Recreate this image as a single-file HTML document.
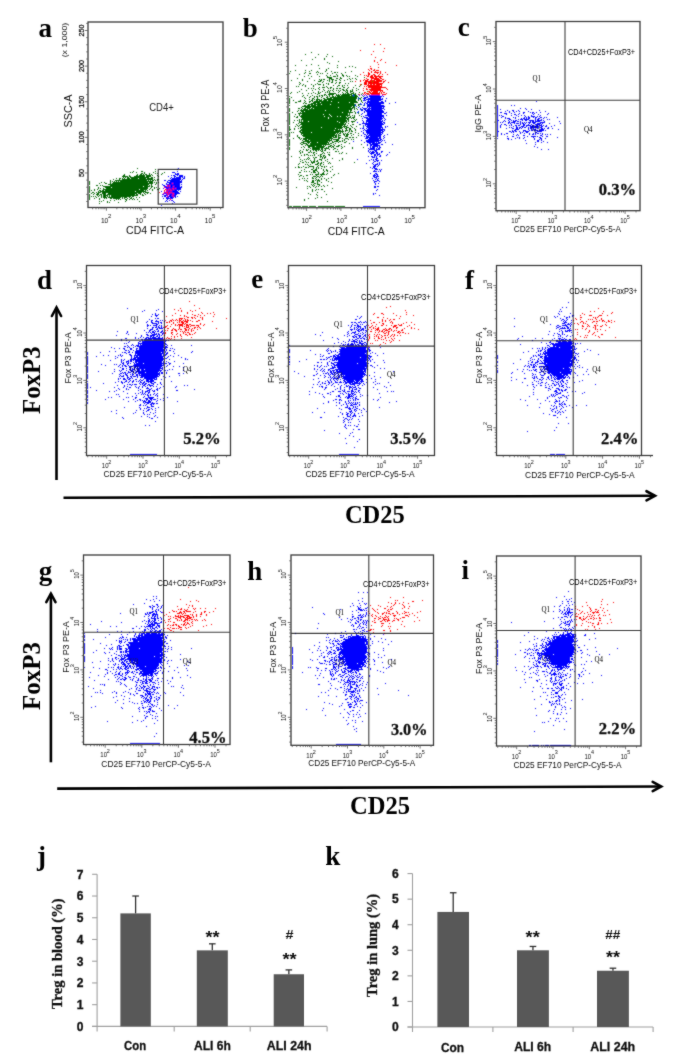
<!DOCTYPE html>
<html><head><meta charset="utf-8"><style>
html,body{margin:0;padding:0;background:#fff;}
svg{display:block;}
.s{font-family:"Liberation Sans",sans-serif;}
.r{font-family:"Liberation Serif",serif;font-weight:bold;}
.q{font-family:"Liberation Serif",serif;}
</style></head><body>
<svg width="685" height="1063" viewBox="0 0 685 1063">
<rect width="685" height="1063" fill="#fff"/>
<defs><filter id="bl" x="0" y="0" width="685" height="1063" filterUnits="userSpaceOnUse"><feConvolveMatrix order="3" kernelMatrix="0.035 0.09 0.035 0.09 0.5 0.09 0.035 0.09 0.035" divisor="1" preserveAlpha="false"/></filter></defs><filter id="sb" x="0" y="0" width="685" height="1063" filterUnits="userSpaceOnUse"><feConvolveMatrix order="3" kernelMatrix="0.02 0.07 0.02 0.07 0.64 0.07 0.02 0.07 0.02" divisor="1" preserveAlpha="false"/></filter>
<g class="dots" filter="url(#bl)"><path transform="translate(0 .5)" stroke="#006400" stroke-width="1" fill="none" d="M137 168h1M155 169h1M133 171h1M141 171h2M155 171h1M130 172h1M132 172h1M136 172h1M144 172h1M153 172h1M164 172h1M141 173h2M144 173h1M149 173h1M155 173h1M157 173h1M162 173h1M124 174h1M137 174h1M140 174h2M143 174h1M145 174h2M149 174h1M151 174h1M161 174h1M123 175h2M129 175h1M136 175h2M139 175h6M146 175h5M152 175h1M157 175h1M122 176h6M129 176h2M134 176h11M146 176h5M158 176h1M123 177h1M125 177h1M127 177h2M130 177h19M151 177h2M154 177h1M116 178h1M119 178h2M122 178h1M124 178h1M127 178h3M131 178h7M139 178h7M147 178h6M113 179h1M119 179h1M122 179h31M154 179h1M157 179h2M110 180h1M115 180h32M148 180h1M150 180h1M152 180h2M155 180h1M157 180h1M89 181h1M110 181h1M112 181h1M114 181h1M116 181h1M118 181h1M120 181h33M89 182h1M101 182h1M104 182h1M110 182h1M113 182h35M149 182h4M154 182h1M156 182h1M158 182h1M89 183h1M99 183h1M105 183h2M110 183h1M112 183h41M156 183h1M89 184h1M108 184h41M151 184h1M155 184h1M96 185h2M100 185h1M102 185h1M110 185h38M149 185h1M151 185h1M175 185h1M89 186h1M103 186h40M144 186h6M151 186h2M164 186h1M89 187h1M98 187h1M105 187h6M112 187h36M151 187h1M154 187h1M156 187h1M89 188h1M98 188h1M100 188h1M103 188h1M106 188h42M150 188h1M154 188h1M159 188h1M89 189h1M94 189h1M97 189h1M103 189h36M140 189h7M149 189h1M152 189h1M157 189h2M89 190h1M91 190h1M94 190h1M99 190h2M102 190h2M105 190h39M145 190h1M147 190h1M152 190h1M89 191h1M98 191h1M100 191h35M136 191h10M89 192h1M92 192h2M96 192h1M98 192h3M102 192h40M143 192h1M145 192h4M91 193h1M94 193h1M97 193h2M102 193h4M108 193h29M138 193h3M144 193h1M147 193h1M150 193h1M89 194h1M93 194h1M96 194h3M100 194h2M103 194h3M107 194h28M136 194h2M140 194h1M142 194h1M145 194h1M89 195h1M97 195h1M99 195h1M101 195h1M103 195h5M109 195h1M111 195h27M142 195h2M89 196h1M91 196h1M93 196h1M95 196h1M98 196h1M101 196h1M103 196h3M107 196h1M109 196h1M111 196h20M132 196h2M89 197h1M96 197h1M101 197h1M103 197h4M108 197h13M122 197h1M124 197h3M129 197h1M131 197h1M136 197h1M139 197h1M89 198h1M94 198h1M99 198h1M104 198h1M106 198h1M110 198h2M113 198h7M122 198h1M124 198h1M127 198h1M130 198h2M133 198h1M89 199h1M99 199h1M116 199h1M118 199h1M120 199h1M125 199h2M129 199h1M132 199h1M134 199h1M137 199h1M103 200h1M110 200h1M114 200h1M126 200h1M99 201h1M101 201h1M107 201h1M125 201h1M139 201h1M107 202h1M109 202h1M118 202h1M99 203h1"/><path transform="translate(0 .5)" stroke="#0000ff" stroke-width="1" fill="none" d="M178 168h1M177 169h1M177 171h1M172 172h3M175 173h1M177 173h2M175 174h4M171 175h1M173 175h2M177 175h1M179 175h4M168 176h1M174 176h2M179 176h4M184 176h1M171 177h1M174 177h1M176 177h5M182 177h1M184 177h1M170 178h1M172 178h9M183 178h2M171 179h10M182 179h1M164 180h2M168 180h12M181 180h1M167 181h1M170 181h12M167 182h15M166 183h1M169 183h11M162 184h1M166 184h14M181 184h1M163 185h2M168 185h12M164 186h3M168 186h12M181 186h1M165 187h17M163 188h1M166 188h15M165 189h16M166 190h11M178 190h1M161 191h1M166 191h12M180 191h1M164 192h2M167 192h12M163 193h17M162 194h2M166 194h11M164 195h4M169 195h7M162 196h1M164 196h2M167 196h9M177 196h1M166 197h3M170 197h4M175 197h1M163 198h1M166 198h7M167 199h1M170 199h1M166 200h1M169 200h1M171 200h2M165 201h1M167 201h1M173 201h1M174 202h1M172 203h1M161 205h1"/><path transform="translate(0 .5)" stroke="#ff0000" stroke-width="1" fill="none" d="M172 183h1M167 185h1M169 185h1M167 186h1M169 186h1M173 186h1M164 187h1M169 188h1M172 188h2M175 188h1M165 189h2M168 189h1M170 189h1M173 189h1M164 190h1M166 190h1M168 190h1M170 190h2M164 191h1M167 191h1M159 192h1M165 192h3M169 192h3M163 193h1M167 193h1M169 193h1M172 193h2M167 194h2M173 194h1M172 195h1M167 196h1M173 196h1M170 199h1"/><path transform="translate(0 .5)" stroke="#006400" stroke-width="1" fill="none" d="M311 52h1M305 54h1M318 54h1M327 54h1M326 56h1M332 56h1M315 57h1M324 58h1M312 59h1M324 59h1M301 60h1M338 61h1M327 62h1M329 63h1M311 64h1M295 65h1M306 65h1M318 65h1M337 65h1M349 66h1M352 66h1M337 67h1M345 67h1M355 67h1M319 68h1M328 68h1M326 69h1M295 70h1M305 70h1M311 70h1M326 70h1M290 71h1M309 71h1M317 71h1M325 71h1M331 71h1M351 71h1M305 72h1M316 72h1M318 72h1M334 72h2M337 72h1M345 72h1M289 73h1M304 73h1M309 73h2M320 73h1M322 73h1M327 73h1M332 73h1M341 73h1M299 74h1M317 74h1M336 74h1M342 74h1M360 74h1M308 75h1M326 75h1M330 75h1M337 75h1M342 75h2M346 75h1M355 75h1M304 76h1M311 76h1M319 76h1M327 76h1M333 76h3M337 76h1M343 76h1M347 76h1M349 76h1M357 76h1M327 77h5M340 77h1M364 77h1M297 78h1M309 78h1M329 78h3M336 78h2M340 78h2M349 78h1M352 78h1M355 78h1M302 79h1M319 79h1M321 79h1M323 79h2M329 79h1M331 79h3M339 79h1M347 79h1M350 79h1M356 79h1M291 80h1M302 80h1M314 80h1M320 80h2M327 80h1M329 80h1M332 80h1M335 80h2M340 80h1M344 80h1M307 81h1M318 81h3M323 81h1M329 81h1M332 81h1M350 81h1M352 81h1M372 81h1M299 82h1M322 82h1M331 82h2M336 82h1M339 82h2M300 83h1M317 83h1M326 83h1M328 83h1M335 83h1M339 83h1M345 83h1M348 83h1M299 84h1M303 84h1M311 84h1M315 84h1M318 84h3M323 84h1M328 84h1M361 84h1M302 85h1M305 85h1M313 85h1M323 85h1M333 85h1M338 85h2M342 85h1M344 85h1M347 85h1M355 85h1M360 85h1M296 86h1M298 86h1M305 86h1M313 86h1M326 86h1M337 86h1M342 86h1M359 86h1M364 86h1M319 87h1M322 87h3M327 87h1M330 87h2M343 87h2M348 87h1M353 87h1M308 88h1M311 88h1M313 88h1M318 88h1M328 88h1M330 88h1M333 88h1M336 88h2M339 88h2M347 88h1M356 88h1M301 89h1M315 89h1M319 89h1M323 89h1M333 89h1M342 89h2M346 89h1M352 89h1M358 89h1M306 90h1M312 90h1M324 90h1M328 90h1M330 90h1M332 90h1M336 90h1M338 90h1M340 90h1M343 90h2M346 90h2M350 90h1M352 90h1M356 90h1M299 91h1M318 91h1M322 91h1M327 91h1M329 91h1M333 91h1M339 91h1M345 91h1M347 91h1M350 91h3M367 91h1M374 91h1M291 92h1M297 92h1M313 92h1M318 92h1M320 92h1M325 92h1M327 92h1M329 92h1M338 92h1M342 92h1M346 92h2M350 92h1M353 92h1M359 92h1M290 93h1M302 93h1M308 93h1M311 93h1M315 93h1M318 93h2M329 93h7M343 93h1M345 93h1M347 93h2M351 93h3M355 93h1M362 93h1M317 94h1M324 94h2M328 94h6M336 94h1M338 94h1M340 94h1M342 94h10M353 94h3M358 94h1M361 94h1M368 94h1M303 95h1M307 95h1M312 95h1M319 95h1M321 95h2M324 95h1M326 95h1M329 95h1M332 95h1M336 95h4M341 95h9M351 95h6M289 96h1M302 96h1M310 96h1M314 96h1M316 96h2M319 96h1M322 96h1M327 96h1M329 96h1M332 96h2M335 96h1M337 96h21M363 96h1M291 97h1M304 97h1M309 97h1M314 97h1M317 97h1M321 97h1M326 97h2M330 97h27M358 97h1M361 97h1M364 97h1M289 98h1M305 98h1M312 98h2M317 98h1M323 98h2M327 98h5M333 98h24M358 98h3M289 99h1M309 99h1M312 99h1M314 99h1M316 99h4M321 99h1M324 99h32M358 99h1M360 99h1M289 100h1M293 100h1M300 100h1M304 100h1M311 100h2M316 100h2M319 100h3M323 100h4M328 100h28M358 100h1M361 100h1M365 100h1M289 101h1M298 101h3M305 101h1M309 101h2M312 101h1M314 101h17M332 101h25M361 101h1M289 102h1M295 102h2M304 102h1M309 102h1M313 102h7M321 102h17M339 102h10M350 102h8M362 102h1M365 102h1M289 103h1M303 103h1M305 103h2M311 103h5M317 103h37M308 104h5M314 104h7M322 104h8M331 104h25M358 104h4M289 105h1M304 105h2M307 105h3M311 105h5M317 105h39M358 105h1M363 105h1M302 106h50M353 106h2M356 106h1M359 106h1M301 107h1M305 107h6M312 107h26M339 107h12M352 107h3M289 108h1M298 108h2M302 108h1M304 108h2M307 108h3M311 108h2M314 108h39M354 108h1M356 108h1M289 109h1M301 109h1M303 109h5M309 109h43M354 109h1M357 109h1M361 109h1M289 110h1M298 110h1M300 110h25M326 110h23M350 110h2M361 110h1M289 111h1M297 111h1M301 111h3M305 111h44M350 111h1M354 111h1M292 112h1M300 112h1M302 112h40M343 112h10M355 112h1M358 112h1M289 113h1M298 113h50M349 113h1M355 113h1M358 113h1M289 114h1M295 114h1M299 114h1M302 114h21M324 114h5M330 114h18M349 114h1M289 115h1M299 115h1M301 115h29M331 115h19M352 115h1M354 115h1M359 115h1M289 116h1M294 116h1M297 116h1M300 116h24M325 116h6M332 116h5M338 116h2M341 116h5M347 116h1M350 116h1M354 116h1M361 116h1M289 117h1M296 117h2M301 117h27M329 117h18M348 117h3M352 117h3M289 118h1M302 118h26M329 118h20M351 118h1M353 118h1M289 119h1M299 119h1M301 119h45M347 119h2M354 119h1M356 119h1M289 120h1M294 120h1M297 120h1M299 120h1M301 120h1M303 120h44M348 120h1M355 120h1M289 121h1M299 121h1M301 121h1M303 121h5M309 121h28M338 121h9M348 121h1M351 121h4M289 122h1M293 122h1M299 122h40M340 122h5M346 122h1M352 122h1M289 123h1M298 123h1M301 123h43M345 123h1M348 123h1M289 124h1M296 124h1M300 124h46M352 124h2M359 124h1M297 125h1M299 125h1M302 125h41M344 125h1M347 125h1M350 125h1M289 126h1M295 126h1M298 126h1M301 126h41M343 126h4M351 126h1M356 126h1M363 126h1M289 127h1M300 127h21M322 127h21M344 127h1M346 127h3M352 127h1M289 128h1M294 128h1M298 128h1M300 128h1M302 128h33M336 128h6M345 128h2M349 128h2M354 128h1M289 129h2M294 129h1M301 129h37M339 129h1M342 129h1M346 129h1M349 129h2M355 129h1M289 130h1M300 130h34M335 130h6M342 130h1M345 130h3M349 130h1M351 130h1M355 130h1M299 131h2M302 131h42M345 131h1M349 131h1M351 131h2M289 132h1M291 132h1M293 132h1M300 132h11M312 132h27M340 132h1M342 132h1M348 132h1M355 132h1M289 133h1M301 133h35M337 133h1M339 133h2M343 133h1M345 133h1M347 133h1M350 133h2M358 133h1M289 134h1M301 134h1M303 134h32M336 134h1M338 134h1M343 134h2M346 134h3M353 134h1M289 135h1M297 135h1M302 135h35M338 135h3M344 135h1M346 135h2M351 135h1M358 135h1M289 136h1M297 136h1M303 136h31M335 136h2M338 136h1M345 136h3M298 137h2M305 137h27M333 137h4M338 137h3M349 137h2M352 137h2M356 137h1M293 138h1M299 138h1M301 138h1M303 138h30M338 138h2M342 138h1M345 138h3M289 139h1M300 139h1M303 139h4M308 139h22M331 139h1M333 139h6M344 139h1M348 139h1M351 139h1M353 139h1M289 140h1M302 140h1M305 140h4M310 140h22M336 140h3M342 140h1M344 140h1M289 141h1M303 141h25M329 141h1M332 141h1M334 141h4M339 141h2M342 141h1M346 141h1M289 142h1M301 142h3M307 142h3M311 142h6M318 142h11M332 142h2M338 142h1M344 142h2M289 143h1M300 143h1M303 143h4M308 143h1M310 143h17M328 143h1M330 143h2M335 143h1M349 143h1M289 144h1M301 144h2M306 144h2M310 144h20M333 144h1M341 144h1M361 144h1M289 145h1M305 145h1M307 145h15M323 145h1M325 145h1M330 145h2M334 145h1M338 145h2M303 146h1M308 146h7M316 146h9M328 146h3M332 146h2M336 146h3M341 146h1M344 146h1M289 147h1M301 147h1M304 147h1M308 147h2M312 147h12M326 147h1M328 147h1M331 147h1M333 147h1M342 147h1M352 147h1M363 147h1M289 148h1M310 148h1M312 148h8M321 148h2M324 148h5M334 148h2M341 148h1M352 148h1M289 149h1M303 149h1M306 149h1M308 149h1M312 149h8M321 149h2M325 149h1M329 149h1M333 149h1M337 149h1M300 150h1M306 150h2M310 150h1M313 150h1M315 150h2M318 150h1M320 150h1M322 150h1M324 150h2M299 151h1M302 151h1M310 151h1M316 151h1M321 151h2M335 151h2M338 151h1M300 152h1M302 152h1M308 152h2M311 152h1M313 152h2M323 152h1M327 152h1M329 152h1M342 152h1M300 153h1M313 153h1M316 153h1M322 153h1M324 153h1M339 153h1M341 153h1M346 153h1M304 154h1M306 154h2M314 154h1M320 154h2M328 154h2M301 155h1M304 155h1M308 155h1M310 155h1M312 155h1M314 155h1M318 155h1M320 155h1M323 155h2M329 155h1M291 156h1M320 156h2M323 156h1M325 156h1M299 157h1M308 157h1M313 157h1M315 157h2M320 157h1M322 157h1M324 157h2M307 158h1M309 158h1M314 158h1M322 158h1M324 158h1M332 158h1M342 158h1M300 159h1M304 159h1M306 159h1M308 159h1M314 159h1M319 159h3M327 159h1M342 159h1M302 160h1M310 160h1M314 160h1M317 160h1M321 160h1M325 160h1M339 160h1M300 161h1M305 161h1M311 161h1M313 161h2M316 161h2M327 161h1M302 162h2M306 162h1M308 162h1M311 162h4M318 162h1M321 162h1M323 162h1M329 162h1M354 162h1M299 163h1M312 163h1M317 163h2M320 163h2M328 163h1M330 163h1M298 164h1M305 164h1M307 164h1M310 164h1M315 164h3M320 164h1M323 164h1M308 165h1M318 165h1M320 165h1M298 166h1M303 166h1M309 166h5M317 166h1M321 166h2M324 166h1M326 166h1M332 166h1M295 167h1M298 167h2M301 167h1M305 167h2M308 167h1M313 167h1M316 167h1M318 167h1M324 167h1M330 167h1M313 168h1M316 168h1M318 168h1M321 168h1M304 169h1M311 169h2M315 169h2M323 169h1M326 169h1M332 169h1M301 170h1M313 170h4M323 170h1M326 170h2M304 171h1M306 171h1M309 171h1M313 171h2M317 171h1M324 171h1M327 171h1M330 171h1M299 172h2M311 172h1M313 172h3M318 172h1M323 172h1M318 173h1M322 173h2M327 173h1M338 173h1M298 174h1M310 174h1M312 174h1M315 174h4M320 174h5M326 174h1M334 174h1M300 175h2M306 175h2M316 175h1M321 175h1M333 175h1M299 176h1M303 176h1M313 176h3M317 176h2M320 176h1M322 176h1M312 177h1M316 177h1M319 177h1M331 177h1M302 178h1M304 178h1M307 178h1M312 178h2M315 178h1M321 178h1M324 178h1M328 178h1M299 179h1M316 179h1M318 179h1M321 179h1M326 179h1M304 180h1M306 180h1M312 180h2M315 180h1M317 180h3M326 180h1M307 181h1M312 181h2M317 181h1M319 181h1M328 181h1M311 182h3M317 182h1M321 182h1M331 182h1M314 183h2M317 183h1M311 184h1M313 184h1M317 184h3M312 185h1M314 185h1M319 185h1M323 185h1M327 185h1M307 186h1M309 186h1M313 186h1M316 186h1M318 186h1M321 186h1M324 186h1M296 187h1M310 187h1M315 187h1M307 188h1M332 188h1M312 189h1M316 189h1M318 189h1M321 189h2M312 190h1M315 190h1M312 191h1M324 191h1M317 192h1M308 193h1M310 194h1M316 194h1M326 194h1M317 195h1M317 197h1M321 197h1M308 198h1M315 198h1M304 199h1M304 200h1M327 201h1M289 206h3M293 206h8M302 206h6M309 206h7M318 206h16M335 206h10"/><path transform="translate(0 .5)" stroke="#0000ff" stroke-width="1" fill="none" d="M353 95h1M359 95h1M362 95h1M364 95h1M366 95h1M369 95h11M382 95h1M367 96h1M369 96h13M383 96h1M364 97h4M370 97h11M358 98h1M363 98h3M368 98h13M382 98h1M386 98h1M364 99h1M366 99h17M363 100h3M368 100h1M370 100h11M385 100h1M367 101h12M381 101h2M385 101h1M365 102h1M367 102h17M395 102h1M360 103h1M364 103h1M366 103h2M369 103h15M389 103h1M361 104h1M364 104h1M367 104h14M355 105h1M364 105h1M367 105h17M367 106h18M358 107h1M362 107h1M367 107h1M369 107h1M371 107h11M383 107h1M360 108h1M363 108h4M368 108h16M360 109h1M362 109h1M364 109h2M367 109h3M371 109h11M384 109h1M361 110h2M365 110h18M358 111h1M364 111h1M366 111h18M357 112h1M364 112h1M367 112h17M386 112h1M362 113h1M367 113h15M384 113h2M361 114h1M367 114h15M365 115h19M386 115h1M363 116h1M368 116h16M364 117h4M369 117h13M383 117h1M362 118h1M366 118h17M384 118h1M367 119h15M385 119h1M362 120h1M366 120h15M382 120h1M384 120h1M363 121h1M366 121h17M357 122h1M363 122h1M366 122h1M368 122h14M383 122h2M362 123h21M384 123h1M360 124h1M365 124h19M395 124h1M363 125h1M365 125h1M367 125h15M366 126h16M385 126h1M387 126h1M363 127h1M367 127h16M385 127h1M360 128h1M362 128h2M366 128h1M368 128h13M382 128h1M364 129h1M367 129h18M363 130h1M365 130h18M384 130h1M361 131h1M366 131h15M382 131h2M363 132h1M366 132h17M363 133h1M367 133h14M382 133h1M364 134h2M367 134h1M369 134h13M387 134h1M361 135h1M366 135h1M368 135h13M384 135h1M364 136h1M366 136h3M370 136h11M383 136h1M366 137h12M379 137h2M384 137h1M365 138h3M369 138h12M383 138h1M368 139h11M380 139h2M361 140h1M366 140h15M382 140h1M384 140h1M353 141h1M366 141h13M381 141h1M364 142h1M367 142h8M376 142h1M378 142h3M385 142h1M369 143h2M372 143h8M367 144h1M370 144h8M381 144h2M392 144h1M367 145h1M370 145h2M373 145h7M370 146h1M372 146h6M379 146h1M370 147h1M372 147h3M377 147h1M379 147h2M368 148h1M370 148h5M376 148h1M378 148h2M369 149h6M376 149h4M368 150h1M374 150h3M368 151h1M370 151h1M372 151h2M375 151h2M381 151h2M369 152h1M371 152h4M376 152h2M381 152h1M389 152h1M370 153h4M376 153h2M379 153h1M371 154h1M374 154h2M377 154h3M387 154h1M374 155h2M377 155h1M380 155h1M386 155h1M368 156h1M371 156h2M374 156h1M376 156h1M379 156h2M372 157h3M376 157h1M376 158h2M357 159h1M371 159h1M373 159h1M375 159h2M369 160h1M373 160h1M376 160h3M381 160h1M374 161h2M377 161h1M373 162h1M379 162h1M366 163h1M372 163h1M377 163h1M379 163h1M373 164h1M375 164h3M379 164h1M374 165h2M378 165h1M373 166h3M377 166h1M370 167h1M373 167h2M372 168h1M374 168h3M375 169h3M379 169h1M381 169h1M374 170h1M380 170h1M373 171h4M378 171h1M380 171h1M370 173h1M375 173h2M374 174h1M376 174h2M373 175h3M377 175h1M373 176h2M376 176h3M374 177h3M372 178h1M376 178h1M378 178h1M375 179h1M377 179h1M373 180h1M377 180h2M374 181h3M379 181h1M374 182h1M375 183h1M378 183h1M375 184h1M374 186h2M377 186h2M374 187h2M377 189h1M376 190h1M373 193h1M375 193h1M373 194h1M379 195h1M363 206h17"/><path transform="translate(0 .5)" stroke="#ff0000" stroke-width="1" fill="none" d="M365 28h1M374 44h1M380 44h1M384 48h1M360 50h1M373 51h1M383 51h1M371 54h1M375 57h1M381 59h1M374 60h1M380 60h1M374 61h1M377 62h1M385 62h1M378 64h1M396 65h1M370 66h1M378 67h1M370 68h2M368 69h1M371 69h1M374 69h1M369 70h1M373 70h2M376 70h3M371 71h1M375 71h1M380 71h1M363 72h1M368 72h1M371 72h1M374 72h5M380 72h1M385 72h1M368 73h2M377 73h1M380 73h1M360 74h1M368 74h2M373 74h2M379 74h1M382 74h1M387 74h1M364 75h1M366 75h1M368 75h1M371 75h2M374 75h2M378 75h1M367 76h2M370 76h3M374 76h9M370 77h4M375 77h2M379 77h2M366 78h1M371 78h8M380 78h2M364 79h1M367 79h2M371 79h1M374 79h6M382 79h2M360 80h1M363 80h1M365 80h3M370 80h5M376 80h6M385 80h1M355 81h1M360 81h1M365 81h7M373 81h9M383 81h2M364 82h3M368 82h11M383 82h1M388 82h1M364 83h3M368 83h15M360 84h1M364 84h3M368 84h1M370 84h2M373 84h2M376 84h6M367 85h13M381 85h1M364 86h1M366 86h1M368 86h14M368 87h18M363 88h1M366 88h1M371 88h10M386 88h1M366 89h2M369 89h12M387 89h1M363 90h1M370 90h13M368 91h2M371 91h1M373 91h5M380 91h1M382 91h1M364 92h2M369 92h2M372 92h6M379 92h1M381 92h1M383 92h2M364 93h1M366 93h3M370 93h10M381 93h1M386 93h1M359 94h1M363 94h1M365 94h1M367 94h1M369 94h1M371 94h9M382 94h4"/><path transform="translate(0 .5)" stroke="#0000ff" stroke-width="1" fill="none" d="M536 101h1M497 105h1M511 105h1M514 105h1M497 106h1M497 107h1M497 108h1M520 108h1M525 108h1M497 109h1M500 109h1M526 109h1M531 109h1M497 110h1M507 110h1M512 110h2M518 110h1M539 110h1M497 111h1M505 111h1M509 111h1M513 111h1M516 111h1M519 111h1M528 111h1M545 111h1M497 112h1M500 112h2M509 112h1M514 112h1M523 112h2M530 112h1M532 112h2M536 112h1M540 112h1M497 113h1M504 113h3M511 113h1M519 113h1M523 113h1M532 113h1M534 113h1M548 113h1M497 114h1M506 114h1M514 114h2M518 114h1M533 114h1M538 114h1M547 114h1M497 115h1M499 115h1M501 115h1M511 115h1M516 115h1M521 115h1M524 115h1M531 115h1M540 115h1M497 116h1M502 116h2M518 116h1M525 116h1M528 116h1M531 116h4M537 116h1M539 116h1M497 117h1M501 117h1M505 117h1M513 117h1M515 117h1M524 117h1M526 117h1M528 117h2M533 117h1M535 117h2M540 117h2M544 117h1M546 117h1M557 117h1M497 118h1M505 118h1M507 118h3M515 118h1M521 118h1M523 118h2M526 118h1M528 118h2M535 118h1M538 118h2M543 118h1M497 119h1M509 119h2M518 119h1M520 119h3M524 119h5M535 119h1M537 119h2M541 119h1M547 119h1M549 119h1M497 120h2M504 120h1M508 120h1M511 120h1M513 120h1M515 120h2M522 120h1M525 120h2M529 120h5M535 120h1M537 120h5M543 120h1M497 121h1M503 121h1M505 121h1M509 121h1M513 121h3M517 121h2M520 121h1M530 121h1M532 121h2M535 121h5M544 121h1M559 121h1M497 122h1M500 122h1M502 122h1M508 122h2M511 122h4M520 122h1M522 122h1M524 122h1M526 122h1M528 122h3M532 122h4M540 122h5M497 123h1M508 123h1M510 123h1M514 123h1M516 123h3M520 123h1M522 123h2M525 123h1M529 123h1M533 123h2M537 123h4M542 123h1M549 123h1M560 123h1M497 124h1M501 124h1M504 124h2M511 124h1M520 124h1M523 124h2M528 124h1M531 124h1M535 124h5M541 124h1M497 125h1M500 125h1M506 125h1M509 125h1M511 125h1M515 125h2M518 125h2M523 125h2M526 125h5M532 125h2M536 125h2M539 125h3M543 125h1M546 125h1M554 125h1M497 126h1M500 126h1M513 126h1M516 126h1M521 126h3M526 126h1M530 126h9M541 126h2M545 126h2M551 126h1M497 127h1M500 127h1M509 127h1M511 127h1M516 127h2M519 127h2M522 127h1M524 127h2M528 127h1M530 127h9M540 127h2M548 127h1M497 128h1M506 128h1M512 128h2M516 128h2M519 128h1M521 128h1M528 128h1M530 128h2M533 128h1M537 128h1M541 128h2M544 128h1M547 128h2M552 128h1M497 129h1M515 129h4M528 129h1M531 129h1M533 129h3M540 129h4M558 129h1M497 130h1M512 130h1M514 130h2M523 130h3M529 130h1M531 130h2M534 130h4M539 130h5M545 130h1M497 131h2M509 131h2M512 131h2M515 131h2M519 131h1M523 131h1M525 131h4M537 131h5M497 132h1M511 132h1M513 132h1M520 132h1M522 132h1M526 132h2M535 132h2M497 133h1M501 133h1M506 133h2M520 133h1M524 133h1M529 133h1M533 133h1M535 133h1M537 133h2M540 133h1M542 133h1M497 134h1M501 134h1M504 134h1M513 134h1M517 134h1M529 134h1M532 134h2M535 134h1M542 134h1M545 134h1M547 134h1M550 134h1M497 135h1M516 135h1M518 135h1M523 135h2M540 135h2M497 136h1M507 136h1M512 136h2M527 136h1M531 136h5M537 136h1M542 136h1M546 136h2M517 137h1M519 137h1M524 137h1M533 137h1M539 137h2M557 137h1M497 138h1M507 138h2M515 138h1M519 138h1M523 138h1M534 138h1M540 138h2M545 138h1M508 139h1M511 139h1M534 139h1M539 139h1M541 139h1M525 140h1M537 140h2M541 140h1M537 141h2M543 141h1M535 142h1M541 142h1M547 142h1M526 143h1M535 144h1M534 146h1M537 147h1M541 149h1M548 149h1"/><path transform="translate(0 .5)" stroke="#0000ff" stroke-width="1" fill="none" d="M127 308h1M158 309h1M144 310h1M156 310h1M142 311h1M162 311h1M155 313h1M152 314h1M155 314h1M158 314h1M155 315h3M151 316h1M156 316h1M155 318h1M157 318h2M149 319h1M151 320h2M156 320h1M160 320h1M162 320h1M147 321h1M151 321h1M155 321h4M164 321h1M146 322h1M151 322h2M158 322h1M160 322h2M152 323h5M158 323h1M161 323h1M147 324h1M156 324h2M147 325h2M150 325h1M153 325h4M159 325h1M161 325h1M147 326h1M156 326h1M158 326h1M161 326h1M152 327h2M155 327h2M158 327h2M161 327h1M163 327h2M147 328h1M152 328h1M157 328h1M159 328h4M150 329h3M156 329h2M144 330h1M149 330h2M154 330h1M158 330h1M162 330h1M117 331h1M127 331h1M149 331h1M152 331h2M155 331h1M157 331h2M161 331h2M127 332h1M146 332h1M148 332h1M150 332h1M152 332h3M160 332h2M163 332h1M126 333h1M136 333h1M151 333h1M154 333h1M156 333h1M158 333h1M162 333h3M128 334h1M146 334h2M152 334h5M158 334h2M162 334h1M116 335h1M141 335h1M147 335h2M150 335h5M157 335h1M159 335h1M161 335h1M141 336h1M150 336h2M153 336h1M156 336h2M159 336h1M135 337h1M140 337h1M143 337h1M146 337h3M150 337h1M152 337h4M158 337h2M162 337h1M125 338h2M135 338h1M138 338h1M145 338h2M148 338h15M121 339h1M141 339h2M144 339h8M153 339h11M121 340h1M126 340h1M142 340h1M144 340h23M168 340h1M129 341h1M139 341h2M142 341h22M165 341h1M128 342h1M138 342h1M142 342h23M124 343h1M126 343h1M138 343h28M132 344h1M138 344h1M140 344h1M142 344h22M165 344h2M127 345h1M131 345h1M133 345h1M136 345h3M140 345h25M167 345h1M171 345h1M191 345h1M124 346h2M128 346h1M135 346h1M137 346h27M165 346h2M111 347h1M127 347h1M129 347h1M133 347h1M139 347h29M114 348h1M119 348h1M123 348h2M130 348h2M136 348h2M139 348h24M164 348h2M170 348h1M172 348h1M124 349h1M130 349h2M136 349h1M139 349h26M166 349h1M174 349h1M125 350h2M128 350h1M133 350h1M136 350h29M166 350h1M169 350h2M109 351h1M115 351h1M129 351h1M135 351h29M165 351h1M173 351h1M192 351h1M87 352h1M100 352h1M122 352h1M124 352h2M128 352h2M132 352h1M135 352h26M162 352h2M165 352h1M167 352h1M191 352h1M87 353h1M126 353h1M135 353h29M166 353h2M174 353h1M87 354h1M120 354h1M129 354h2M135 354h1M137 354h25M163 354h1M165 354h2M103 355h1M108 355h1M118 355h1M120 355h1M122 355h1M130 355h2M134 355h28M163 355h3M170 355h1M178 355h1M87 356h1M96 356h1M115 356h1M121 356h1M131 356h1M134 356h1M136 356h2M139 356h25M168 356h1M173 356h1M87 357h1M117 357h1M131 357h1M134 357h29M167 357h1M181 357h1M87 358h1M115 358h1M131 358h1M133 358h3M137 358h27M165 358h2M185 358h1M87 359h1M121 359h1M124 359h1M130 359h34M169 359h1M185 359h1M187 359h1M87 360h1M110 360h1M121 360h1M123 360h1M128 360h1M130 360h2M133 360h1M135 360h28M87 361h1M121 361h1M126 361h3M130 361h2M135 361h27M163 361h1M166 361h1M174 361h1M87 362h1M121 362h1M123 362h1M126 362h1M128 362h1M133 362h1M135 362h2M138 362h24M163 362h1M168 362h1M87 363h1M122 363h2M127 363h2M130 363h1M134 363h1M136 363h7M144 363h23M169 363h2M183 363h1M87 364h1M101 364h1M114 364h1M116 364h1M120 364h1M123 364h1M127 364h1M134 364h28M163 364h1M169 364h1M105 365h1M119 365h1M122 365h1M124 365h2M128 365h1M133 365h31M167 365h1M87 366h1M118 366h1M122 366h1M125 366h2M129 366h4M134 366h28M166 366h1M173 366h1M179 366h1M87 367h1M120 367h1M129 367h2M134 367h2M137 367h1M139 367h22M162 367h1M164 367h1M183 367h1M87 368h1M122 368h2M126 368h1M130 368h1M132 368h1M134 368h1M136 368h27M87 369h1M114 369h1M122 369h2M129 369h2M132 369h3M137 369h3M141 369h3M145 369h15M162 369h1M169 369h1M172 369h1M87 370h1M119 370h1M121 370h1M126 370h1M130 370h3M135 370h1M137 370h3M141 370h21M164 370h2M167 370h1M183 370h1M87 371h1M98 371h1M114 371h1M120 371h1M128 371h1M131 371h3M136 371h23M160 371h1M87 372h1M122 372h1M124 372h2M128 372h3M133 372h1M135 372h2M138 372h7M146 372h12M159 372h1M161 372h2M166 372h1M112 373h1M120 373h2M123 373h1M125 373h1M127 373h1M132 373h1M135 373h1M138 373h22M161 373h2M166 373h1M178 373h2M183 373h1M87 374h1M119 374h1M125 374h2M130 374h1M132 374h2M136 374h2M139 374h1M141 374h19M87 375h1M120 375h1M123 375h1M126 375h2M132 375h1M136 375h2M139 375h19M159 375h1M179 375h1M87 376h1M119 376h1M121 376h3M127 376h1M130 376h2M133 376h3M137 376h1M141 376h18M163 376h1M169 376h1M87 377h1M127 377h2M131 377h1M137 377h1M140 377h3M144 377h13M165 377h1M87 378h1M118 378h1M120 378h1M123 378h2M127 378h1M129 378h2M132 378h1M144 378h11M156 378h1M118 379h1M123 379h3M128 379h2M135 379h2M140 379h1M143 379h1M146 379h7M154 379h3M161 379h1M126 380h1M130 380h1M133 380h1M139 380h1M141 380h2M146 380h3M150 380h4M87 381h1M118 381h1M121 381h1M125 381h2M129 381h1M132 381h2M136 381h1M138 381h1M140 381h1M144 381h1M146 381h8M171 381h1M115 382h1M121 382h2M124 382h1M128 382h1M132 382h1M140 382h2M143 382h2M148 382h1M150 382h2M154 382h2M160 382h1M87 383h1M103 383h1M122 383h1M139 383h1M142 383h2M145 383h2M151 383h3M160 383h1M87 384h1M127 384h1M129 384h2M132 384h1M134 384h3M140 384h1M142 384h1M144 384h2M148 384h2M153 384h1M157 384h1M161 384h1M87 385h1M117 385h1M124 385h1M131 385h1M143 385h2M147 385h1M149 385h4M184 385h1M187 385h1M87 386h1M124 386h1M127 386h1M135 386h1M139 386h1M142 386h1M145 386h1M150 386h1M153 386h1M156 386h1M163 386h1M176 386h1M87 387h1M90 387h1M114 387h1M123 387h1M129 387h2M136 387h1M138 387h1M142 387h1M147 387h1M160 387h1M175 387h1M87 388h1M118 388h1M126 388h1M138 388h1M146 388h3M151 388h1M157 388h1M159 388h1M119 389h1M126 389h1M128 389h1M140 389h1M149 389h2M156 389h2M194 389h1M87 390h1M96 390h1M116 390h1M138 390h1M142 390h1M147 390h3M152 390h1M154 390h1M157 390h1M176 390h2M87 391h1M109 391h1M114 391h1M123 391h1M142 391h1M145 391h3M149 391h1M153 391h2M87 392h1M140 392h1M142 392h1M145 392h1M148 392h2M87 393h1M127 393h1M135 393h1M138 393h1M142 393h1M144 393h1M148 393h1M154 393h1M157 393h1M116 394h1M118 394h1M141 394h1M143 394h1M145 394h1M147 394h1M150 394h1M153 394h1M156 394h1M163 394h1M87 395h1M136 395h1M147 395h2M150 395h1M155 395h1M157 395h1M87 396h1M119 396h1M132 396h1M144 396h1M148 396h1M157 396h1M87 397h1M108 397h1M111 397h1M126 397h1M128 397h1M135 397h2M143 397h1M148 397h6M167 397h1M135 398h1M145 398h3M149 398h4M157 398h1M163 398h1M87 399h1M105 399h1M123 399h1M133 399h1M139 399h2M146 399h2M150 399h2M153 399h3M160 399h1M87 400h1M137 400h1M140 400h1M142 400h1M144 400h1M146 400h1M148 400h2M151 400h1M157 400h1M163 400h1M128 401h1M135 401h1M143 401h3M148 401h3M156 401h1M177 401h1M87 402h1M143 402h1M145 402h6M152 402h1M87 403h1M144 403h1M147 403h2M151 403h4M156 403h2M140 404h1M146 404h1M150 404h2M153 404h1M139 405h2M143 405h1M145 405h1M151 405h1M147 406h1M151 406h3M124 407h1M139 407h1M147 407h3M158 407h1M140 408h1M144 408h1M146 408h1M151 408h1M155 408h1M140 409h1M148 409h2M152 409h1M116 410h1M136 410h1M143 410h1M147 410h2M155 410h1M111 411h1M146 411h1M135 412h1M143 412h1M150 412h1M155 412h1M116 413h1M133 413h1M143 413h1M153 413h1M173 413h1M144 414h1M147 414h1M149 414h1M155 415h1M141 416h1M147 416h1M154 416h1M122 417h1M149 417h1M157 417h1M123 418h1M151 418h2M155 421h1M145 425h1M149 425h1M130 454h27"/><path transform="translate(0 .5)" stroke="#ff0000" stroke-width="1" fill="none" d="M189 301h1M194 305h1M180 308h1M199 308h1M174 309h1M178 310h1M181 310h1M190 310h1M195 310h1M181 311h1M192 311h1M187 312h1M201 312h1M213 312h1M175 313h1M187 313h1M202 313h1M207 313h1M210 313h1M192 314h1M198 314h1M214 314h1M172 315h1M180 315h1M184 315h1M194 315h2M200 315h1M204 315h1M166 316h1M184 316h1M186 316h1M197 316h1M213 316h1M187 317h2M191 317h2M194 317h1M200 317h1M202 317h1M179 318h4M184 318h1M192 318h1M195 318h1M202 318h1M226 318h1M172 319h1M176 319h1M179 319h1M181 319h1M185 319h1M187 319h1M202 319h1M165 320h1M170 320h2M173 320h1M175 320h1M177 320h1M179 320h2M183 320h1M185 320h1M187 320h2M190 320h1M198 320h2M169 321h1M171 321h1M179 321h1M181 321h2M184 321h4M192 321h1M196 321h2M212 321h1M166 322h2M169 322h1M173 322h1M177 322h1M179 322h1M181 322h3M186 322h2M173 323h1M182 323h2M185 323h1M200 323h1M171 324h1M175 324h1M178 324h5M184 324h1M186 324h2M189 324h2M200 324h1M204 324h1M167 325h1M175 325h1M177 325h1M179 325h4M186 325h3M191 325h4M196 325h3M203 325h1M165 326h2M170 326h1M179 326h1M182 326h1M184 326h1M186 326h1M188 326h1M190 326h1M198 326h1M164 327h2M179 327h1M186 327h3M194 327h2M197 327h1M199 327h1M167 328h2M173 328h1M179 328h1M184 328h2M189 328h1M192 328h1M194 328h1M200 328h1M216 328h1M172 329h1M174 329h2M178 329h1M180 329h2M185 329h2M188 329h1M191 329h1M197 329h1M165 330h1M167 330h1M171 330h2M175 330h2M185 330h2M188 330h1M191 330h1M193 330h1M176 331h1M180 331h1M182 331h1M184 331h1M191 331h1M165 332h1M171 332h2M183 332h1M185 332h1M187 332h2M195 332h1M164 333h2M171 333h1M177 333h1M183 333h1M189 333h1M194 333h1M172 334h1M176 334h1M180 334h1M185 334h2M189 334h2M192 334h1M164 335h1M180 335h1M187 335h1M171 336h1M174 336h1M177 336h1M181 336h1M167 337h1M174 337h1M191 337h1M164 338h1M166 338h1M168 338h2M171 338h1M181 338h1M164 339h1M170 339h1M174 339h1"/><path transform="translate(0 .5)" stroke="#0000ff" stroke-width="1" fill="none" d="M357 316h1M361 316h1M360 317h1M359 318h1M355 319h2M360 321h1M365 321h1M351 322h2M354 322h2M358 322h2M361 322h1M363 322h2M366 322h1M356 323h1M352 324h1M357 324h1M360 324h1M362 324h1M367 324h1M348 325h1M351 325h1M354 325h2M357 325h2M366 325h1M351 326h1M357 326h4M364 326h2M350 327h1M354 327h1M356 327h1M358 327h1M360 327h1M365 327h1M354 328h1M357 328h1M360 328h1M362 328h2M365 328h1M350 329h3M354 329h1M356 329h1M358 329h2M361 329h3M351 330h1M357 330h2M360 330h2M363 330h1M365 330h2M348 331h1M355 331h1M358 331h2M366 331h1M322 332h1M347 332h1M352 332h4M362 332h1M365 332h1M348 333h1M351 333h1M354 333h1M358 333h1M360 333h1M363 333h1M315 334h1M347 334h1M355 334h3M362 334h1M365 334h1M367 334h1M320 335h1M344 335h1M349 335h1M354 335h1M358 335h3M364 335h2M347 336h1M352 336h2M355 336h2M359 336h2M363 336h1M365 336h1M332 337h1M353 337h2M356 337h1M359 337h1M362 337h1M366 337h1M337 338h1M357 338h2M360 338h2M363 338h2M338 339h1M349 339h1M352 339h1M355 339h2M364 339h1M366 339h1M323 340h1M349 340h1M353 340h2M357 340h1M359 340h1M361 340h1M343 341h1M348 341h1M351 341h6M359 341h1M361 341h2M367 341h1M338 342h1M345 342h1M354 342h1M356 342h2M359 342h2M364 342h2M334 343h1M341 343h1M348 343h1M351 343h2M354 343h1M359 343h5M366 343h1M343 344h1M345 344h1M347 344h2M350 344h4M355 344h1M357 344h2M361 344h2M364 344h1M366 344h1M289 345h1M340 345h1M342 345h3M347 345h7M355 345h2M358 345h2M361 345h3M365 345h2M333 346h1M339 346h1M345 346h22M340 347h5M346 347h21M368 347h2M380 347h1M328 348h1M341 348h25M368 348h1M289 349h1M327 349h1M339 349h27M368 349h2M289 350h1M310 350h1M326 350h1M328 350h1M330 350h1M335 350h1M340 350h28M369 350h2M289 351h1M327 351h1M331 351h1M333 351h1M335 351h1M339 351h29M369 351h1M289 352h1M331 352h1M337 352h1M340 352h27M372 352h1M328 353h2M339 353h26M366 353h1M370 353h1M375 353h1M383 353h1M315 354h1M320 354h1M335 354h1M338 354h29M323 355h1M333 355h2M336 355h3M340 355h30M377 355h1M289 356h1M320 356h1M322 356h1M330 356h2M333 356h3M337 356h31M369 356h3M289 357h1M326 357h1M328 357h2M333 357h1M335 357h25M361 357h8M370 357h1M327 358h1M332 358h1M334 358h33M368 358h2M289 359h1M306 359h1M320 359h2M323 359h2M326 359h1M330 359h1M332 359h1M334 359h34M369 359h1M372 359h1M332 360h3M336 360h1M338 360h29M368 360h1M370 360h1M383 360h1M289 361h1M299 361h1M329 361h1M338 361h28M367 361h1M370 361h1M289 362h1M317 362h2M321 362h1M327 362h1M331 362h1M334 362h33M374 362h1M384 362h1M327 363h1M331 363h3M337 363h20M358 363h11M289 364h1M327 364h1M333 364h2M336 364h31M314 365h1M317 365h1M321 365h1M328 365h1M331 365h1M334 365h34M370 365h2M377 365h1M317 366h1M320 366h1M324 366h1M326 366h1M332 366h1M334 366h1M337 366h31M372 366h1M319 367h1M332 367h4M337 367h28M366 367h1M374 367h1M314 368h1M322 368h1M330 368h4M338 368h29M380 368h1M384 368h1M314 369h1M317 369h1M321 369h1M324 369h1M328 369h2M335 369h31M367 369h1M320 370h1M323 370h1M328 370h1M330 370h1M332 370h3M336 370h2M339 370h24M364 370h2M294 371h1M316 371h1M322 371h1M324 371h1M330 371h2M333 371h1M336 371h30M393 371h1M327 372h1M330 372h2M333 372h3M337 372h27M365 372h1M374 372h1M298 373h1M317 373h1M323 373h1M325 373h2M328 373h1M331 373h2M334 373h1M336 373h2M341 373h24M316 374h1M328 374h1M330 374h1M332 374h2M335 374h1M338 374h1M340 374h26M313 375h2M320 375h1M324 375h1M329 375h1M334 375h1M337 375h1M339 375h1M341 375h1M343 375h1M345 375h18M364 375h1M366 375h1M369 375h1M304 376h1M325 376h1M330 376h1M333 376h1M336 376h1M338 376h2M341 376h23M374 376h1M324 377h1M328 377h1M330 377h1M332 377h1M334 377h1M338 377h2M343 377h20M380 377h1M318 378h1M331 378h1M333 378h6M342 378h20M371 378h1M313 379h1M330 379h1M333 379h1M336 379h1M340 379h1M344 379h19M366 379h1M375 379h1M327 380h1M330 380h1M334 380h1M337 380h1M343 380h2M346 380h8M355 380h5M361 380h2M319 381h1M325 381h1M328 381h1M331 381h1M335 381h1M340 381h1M344 381h2M347 381h8M356 381h3M360 381h4M375 381h1M318 382h1M322 382h1M328 382h2M331 382h1M335 382h3M339 382h3M343 382h1M345 382h8M354 382h4M359 382h1M361 382h1M366 382h1M373 382h1M388 382h1M322 383h1M324 383h2M329 383h1M333 383h1M345 383h2M349 383h2M352 383h9M363 383h1M377 383h1M379 383h1M313 384h1M317 384h1M320 384h1M328 384h1M332 384h1M338 384h1M344 384h1M350 384h5M359 384h1M364 384h1M375 384h1M326 385h1M331 385h1M341 385h1M346 385h1M348 385h1M354 385h1M357 385h2M362 385h1M390 385h1M319 386h1M321 386h2M334 386h1M340 386h1M346 386h2M349 386h2M352 386h1M355 386h1M384 386h1M312 387h1M322 387h1M325 387h2M340 387h1M344 387h1M349 387h3M353 387h3M358 387h1M373 387h1M386 387h1M325 388h1M337 388h1M340 388h1M349 388h1M352 388h1M356 388h1M359 388h2M324 389h1M335 389h1M340 389h1M344 389h1M349 389h1M352 389h1M354 389h3M377 389h1M342 390h1M344 390h1M351 390h2M358 390h2M309 391h1M332 391h2M338 391h3M343 391h2M347 391h3M351 391h3M355 391h1M358 391h1M387 391h1M391 391h1M393 391h1M315 392h1M330 392h1M345 392h1M351 392h1M354 392h1M356 392h1M359 392h1M319 393h1M327 393h2M340 393h1M342 393h1M346 393h1M348 393h1M351 393h3M379 393h1M309 394h1M322 394h1M330 394h1M343 394h1M348 394h3M352 394h1M354 394h2M360 394h1M338 395h2M348 395h2M351 395h1M353 395h1M362 395h1M367 395h1M323 396h1M336 396h1M338 396h2M346 396h1M348 396h5M356 396h1M360 396h1M324 397h1M340 397h1M345 397h1M347 397h3M353 397h1M355 397h1M380 397h1M347 398h2M350 398h1M352 398h1M355 398h2M335 399h2M339 399h2M353 399h1M355 399h1M357 399h2M373 399h1M378 399h1M333 400h1M339 400h1M341 400h1M348 400h1M350 400h1M353 400h1M355 400h1M377 400h1M328 401h1M345 401h1M348 401h1M396 401h1M328 402h1M336 402h1M339 402h1M345 402h1M349 402h1M351 402h1M353 402h1M355 402h1M357 402h1M359 402h1M389 402h1M323 403h1M339 403h1M346 403h1M348 403h1M350 403h1M352 403h1M355 403h1M357 403h1M343 404h1M346 404h1M351 404h1M353 404h4M359 404h1M336 405h1M341 405h1M347 405h1M350 405h3M359 405h1M347 406h1M353 406h1M355 406h1M357 406h1M345 407h3M349 407h1M353 407h1M355 407h1M379 407h1M317 408h1M339 408h1M348 408h3M352 408h1M356 408h2M363 408h1M341 409h1M349 409h2M354 409h2M359 409h1M364 409h1M351 410h1M354 410h1M356 410h1M361 410h1M349 411h3M355 411h1M366 411h1M312 412h1M324 412h1M340 412h1M346 412h1M350 412h1M352 412h1M361 412h1M342 413h1M347 413h2M351 413h1M354 413h1M358 413h1M342 414h1M346 414h2M350 414h1M354 414h1M347 415h1M350 415h1M353 415h3M362 415h1M338 416h1M347 416h3M352 416h2M355 416h1M359 416h1M320 417h2M343 417h1M350 417h1M345 418h2M352 418h1M344 419h1M347 419h1M349 419h1M351 419h1M358 419h1M343 420h1M348 420h1M344 421h1M359 421h1M343 422h1M348 422h1M350 422h1M345 424h1M358 424h1M345 425h1M348 425h1M350 425h1M354 425h1M344 426h1M356 426h2M345 427h1M346 428h1M353 429h1M358 429h2M324 430h1M352 432h1M339 433h1M350 433h1M349 435h1M353 436h1M345 438h1M359 439h1M357 441h1M346 443h1M354 447h1M339 454h20"/><path transform="translate(0 .5)" stroke="#ff0000" stroke-width="1" fill="none" d="M390 306h1M386 307h1M405 310h1M406 312h1M374 313h1M381 313h2M393 313h1M373 314h1M383 314h1M406 314h1M396 315h1M413 315h1M400 316h1M377 317h2M383 317h1M387 318h1M399 318h1M382 319h1M390 319h1M393 319h2M370 320h1M382 320h1M385 320h1M389 320h1M382 321h1M385 321h1M391 321h1M373 322h2M379 322h1M390 322h1M392 322h1M406 322h1M411 322h1M371 323h1M382 323h2M392 323h1M403 323h1M376 324h1M383 324h1M398 324h1M401 324h1M414 324h1M368 325h1M372 325h1M381 325h2M386 325h1M391 325h1M394 325h3M399 325h3M409 325h1M371 326h1M375 326h1M393 326h3M407 326h1M369 327h2M373 327h1M378 327h1M393 327h1M396 327h2M411 327h1M373 328h1M375 328h1M377 328h2M385 328h1M389 328h2M396 328h1M404 328h1M411 328h1M414 328h1M368 329h1M371 329h1M376 329h3M383 329h2M386 329h1M388 329h2M391 329h1M402 329h1M418 329h1M375 330h1M377 330h1M379 330h1M382 330h1M385 330h3M391 330h1M394 330h1M396 330h1M401 330h2M370 331h2M379 331h1M381 331h2M384 331h1M388 331h2M393 331h1M398 331h2M375 332h1M378 332h1M383 332h1M386 332h1M388 332h1M397 332h2M400 332h1M402 332h2M384 333h2M388 333h1M399 333h1M405 333h1M408 333h1M369 334h1M374 334h1M377 334h1M379 334h1M388 334h1M392 334h1M394 334h1M368 335h1M376 335h1M381 335h1M384 335h2M387 335h1M391 335h1M394 335h1M397 335h1M400 335h1M369 336h1M374 336h1M376 336h1M378 336h1M382 336h1M390 336h1M393 336h1M369 337h1M378 337h1M381 337h1M385 337h1M388 337h1M369 338h1M374 338h1M378 338h2M385 338h1M391 338h1M394 338h1M368 339h1M381 339h1M383 339h1M392 339h1M368 340h1M375 340h1M377 340h1M386 340h1M389 340h1M393 340h1M399 340h1M391 341h1M383 342h1M390 342h1M370 343h1M372 343h1M385 343h1M380 344h1M379 345h1M368 346h1"/><path transform="translate(0 .5)" stroke="#0000ff" stroke-width="1" fill="none" d="M568 302h1M562 307h1M566 307h1M560 309h1M559 311h1M561 311h1M558 313h1M570 313h1M559 314h1M572 315h2M554 316h1M557 316h1M564 316h1M569 316h1M572 316h1M555 317h1M566 317h2M569 317h1M514 318h1M560 318h1M566 318h1M562 319h2M567 319h1M561 320h1M564 320h1M566 320h1M571 320h1M563 321h1M565 321h1M564 322h3M571 322h1M562 323h3M568 323h1M570 323h1M550 324h1M565 324h1M567 324h3M571 324h1M557 325h2M562 325h5M570 325h1M514 326h1M556 326h1M559 326h2M566 326h2M570 326h1M557 327h2M562 327h1M564 327h1M567 327h2M556 328h1M560 328h6M567 328h2M570 328h1M559 329h1M569 329h1M561 330h1M565 330h1M567 330h5M549 331h1M559 331h1M562 331h1M565 331h3M569 331h1M562 332h1M571 332h1M554 333h1M557 333h1M562 333h1M548 334h1M558 334h2M562 334h1M564 334h1M553 335h1M560 335h1M567 335h1M572 335h1M522 336h1M558 336h1M560 336h1M566 336h1M570 336h1M562 337h1M518 338h1M535 338h1M542 338h1M554 338h1M558 338h3M564 338h1M517 339h1M552 339h1M559 339h1M561 339h3M565 339h2M569 339h2M532 340h1M556 340h2M559 340h7M567 340h4M550 341h1M556 341h5M562 341h5M568 341h5M541 342h1M549 342h2M558 342h14M573 342h1M546 343h1M551 343h3M555 343h19M575 343h1M577 343h1M580 343h1M520 344h1M550 344h1M552 344h20M575 344h1M547 345h2M553 345h18M572 345h2M549 346h1M553 346h2M556 346h19M542 347h1M545 347h1M547 347h1M550 347h9M560 347h13M574 347h1M532 348h1M537 348h1M539 348h1M542 348h1M545 348h1M548 348h25M574 348h1M576 348h1M542 349h1M544 349h1M547 349h24M572 349h4M587 349h1M538 350h1M540 350h2M545 350h1M547 350h27M590 350h1M528 351h1M538 351h1M540 351h1M544 351h2M547 351h26M574 351h1M584 351h1M523 352h1M536 352h1M543 352h1M545 352h30M540 353h1M543 353h31M575 353h2M578 353h1M538 354h1M540 354h1M542 354h1M544 354h2M547 354h26M577 354h1M598 354h1M497 355h1M533 355h1M535 355h1M538 355h2M545 355h29M575 355h1M497 356h1M533 356h1M536 356h1M540 356h3M544 356h3M548 356h25M574 356h1M578 356h1M497 357h1M531 357h1M540 357h2M544 357h32M497 358h1M530 358h1M538 358h1M542 358h1M544 358h28M573 358h3M520 359h1M532 359h1M534 359h1M538 359h1M544 359h27M572 359h3M576 359h1M530 360h1M537 360h1M540 360h1M543 360h31M576 360h1M578 360h1M497 361h1M528 361h1M532 361h1M537 361h2M541 361h1M544 361h30M497 362h1M531 362h2M535 362h3M542 362h1M544 362h26M571 362h4M577 362h1M513 363h1M528 363h1M535 363h1M539 363h7M547 363h26M530 364h2M533 364h2M537 364h1M544 364h29M575 364h1M497 365h1M525 365h1M528 365h1M531 365h1M533 365h1M535 365h1M545 365h28M579 365h1M524 366h1M527 366h1M529 366h1M533 366h2M536 366h1M539 366h32M572 366h1M574 366h1M577 366h1M529 367h1M532 367h3M539 367h1M543 367h2M546 367h23M570 367h1M579 367h1M582 367h1M497 368h1M543 368h1M545 368h18M564 368h6M575 368h1M517 369h1M523 369h1M527 369h1M533 369h1M535 369h2M540 369h1M542 369h1M544 369h28M587 369h1M497 370h1M529 370h1M531 370h1M534 370h2M541 370h1M547 370h23M571 370h1M497 371h1M522 371h1M536 371h1M541 371h3M545 371h1M548 371h24M586 371h1M497 372h1M512 372h1M539 372h2M547 372h13M561 372h10M574 372h1M511 373h1M524 373h1M532 373h1M544 373h2M548 373h2M551 373h20M575 373h1M533 374h1M535 374h1M540 374h1M544 374h1M550 374h1M552 374h10M563 374h5M570 374h1M583 374h1M588 374h1M532 375h1M541 375h3M550 375h2M553 375h12M566 375h2M577 375h1M534 376h1M536 376h1M548 376h1M551 376h1M554 376h1M556 376h8M565 376h1M568 376h1M511 377h1M532 377h1M534 377h1M536 377h1M541 377h2M547 377h2M551 377h1M553 377h1M555 377h1M557 377h9M567 377h1M569 377h1M573 377h1M524 378h2M533 378h2M537 378h1M543 378h1M548 378h1M551 378h1M554 378h1M556 378h6M563 378h2M569 378h1M516 379h1M539 379h2M542 379h1M546 379h1M549 379h1M554 379h2M557 379h3M562 379h1M511 380h1M534 380h1M541 380h1M551 380h2M561 380h2M566 380h2M582 380h1M536 381h1M538 381h1M553 381h1M555 381h1M558 381h1M560 381h1M562 381h2M579 381h1M522 382h1M532 382h1M541 382h2M546 382h1M556 382h2M560 382h1M563 382h1M567 382h1M574 382h1M538 383h1M540 383h1M545 383h1M552 383h2M558 383h1M561 383h1M565 383h1M532 384h2M548 384h1M554 384h1M556 384h1M558 384h1M561 384h1M566 384h1M595 384h1M527 385h1M536 385h1M540 385h2M545 385h1M551 385h1M554 385h2M559 385h1M562 385h2M533 386h1M549 386h1M559 386h1M561 386h2M566 386h1M534 387h1M545 387h2M552 387h1M563 387h1M567 387h1M569 387h1M548 388h2M556 388h3M533 389h1M550 389h1M558 389h2M561 389h1M565 389h2M548 390h1M555 390h2M559 390h1M561 390h2M564 390h2M554 391h3M562 391h1M572 391h1M575 391h1M533 392h1M556 392h2M560 392h1M567 392h1M584 392h1M555 393h1M558 393h3M582 393h1M533 394h1M551 394h1M553 394h1M556 394h2M551 395h1M553 395h1M555 395h1M562 395h2M568 395h1M529 396h1M549 396h1M552 396h1M554 396h1M564 396h1M566 396h1M547 397h1M558 397h1M560 397h2M566 397h1M547 398h1M559 398h1M567 398h1M520 399h1M537 399h1M555 399h1M525 400h1M545 400h1M556 400h1M559 400h1M566 400h1M549 401h1M555 401h3M559 401h1M563 401h1M554 402h1M562 402h1M540 403h1M555 403h1M559 403h1M561 403h1M564 403h1M559 404h2M562 404h1M564 404h2M527 405h1M551 405h1M554 405h1M561 405h1M569 405h1M576 405h1M586 405h1M553 406h1M556 406h1M559 406h1M562 406h1M566 406h1M539 407h1M556 407h1M563 407h1M572 407h1M550 408h1M554 408h1M556 408h1M561 408h1M552 409h2M560 409h1M551 410h1M557 410h1M565 410h1M552 411h1M555 411h1M559 411h1M562 411h1M555 412h1M558 412h1M560 412h1M563 412h1M543 413h1M557 413h1M549 414h1M560 414h1M553 415h3M557 417h1M566 417h1M558 423h1M568 423h1M556 427h1M554 430h1M527 431h1M550 454h5M556 454h9"/><path transform="translate(0 .5)" stroke="#ff0000" stroke-width="1" fill="none" d="M598 308h1M590 311h1M594 311h1M603 311h1M612 312h1M582 313h1M602 313h1M611 313h1M584 314h1M580 315h1M589 315h3M599 315h3M607 315h1M598 316h1M580 317h2M593 317h1M595 317h1M597 317h1M575 318h1M595 318h1M601 318h1M576 319h1M580 319h1M588 319h1M590 319h1M592 319h1M596 319h1M601 319h1M573 320h1M599 320h1M602 320h2M608 320h1M611 320h1M581 321h2M586 321h1M593 321h2M596 321h2M602 321h1M604 321h1M608 321h2M614 321h1M580 322h1M583 322h1M592 322h1M606 322h1M611 322h1M574 323h1M577 323h1M583 323h1M585 323h1M596 323h1M578 324h1M587 324h1M605 324h1M582 325h1M588 325h1M594 325h2M597 325h1M602 325h1M606 325h1M582 326h2M587 326h1M589 326h1M595 326h1M600 326h2M593 327h1M595 327h1M609 327h1M582 328h1M586 328h1M595 328h1M575 329h1M577 329h1M585 329h1M595 329h1M597 329h1M600 329h1M589 330h1M605 330h1M589 331h1M597 331h1M577 332h1M588 332h1M594 332h1M593 333h1M577 334h1M592 334h1M601 334h2M585 335h1M587 335h1M595 335h1M580 336h1M598 336h1M584 337h1M586 337h1M599 337h1M615 337h1M575 338h1M574 339h1M576 339h1"/><path transform="translate(0 .5)" stroke="#0000ff" stroke-width="1" fill="none" d="M153 596h1M156 596h1M156 598h1M146 599h1M153 599h1M150 600h1M159 600h1M154 601h1M144 603h1M133 604h1M156 604h2M152 605h1M157 605h1M162 605h1M149 606h2M153 606h2M158 606h1M161 606h1M150 607h1M152 607h1M157 607h1M161 607h1M152 608h1M160 608h1M152 609h1M156 609h1M158 609h1M155 610h1M158 610h1M152 611h2M155 611h2M160 611h1M147 612h1M149 612h4M156 612h1M161 612h2M120 613h1M145 613h1M147 613h1M149 613h2M153 613h2M156 613h1M145 614h2M148 614h1M152 614h6M149 615h1M152 615h2M155 615h1M157 615h1M144 616h1M148 616h1M152 616h1M154 616h2M157 616h1M151 617h1M154 617h1M157 617h1M160 617h1M148 618h1M151 618h5M157 618h2M161 618h1M149 619h1M154 619h2M161 619h1M144 620h1M148 620h2M152 620h1M154 620h2M158 620h1M101 621h1M142 621h1M146 621h1M148 621h2M151 621h1M153 621h2M161 621h1M121 622h1M148 622h1M150 622h1M152 622h1M154 622h3M160 622h2M145 623h1M148 623h1M151 623h2M154 623h6M90 624h1M147 624h1M149 624h6M157 624h1M148 625h3M152 625h3M157 625h3M110 626h1M116 626h1M136 626h1M141 626h1M144 626h1M146 626h7M156 626h1M158 626h2M145 627h1M150 627h1M152 627h1M155 627h2M159 627h1M132 628h2M139 628h1M147 628h1M150 628h1M152 628h3M157 628h1M97 629h1M144 629h2M148 629h1M151 629h1M154 629h1M161 629h1M144 630h2M150 630h1M152 630h1M155 630h2M159 630h2M163 630h1M97 631h1M117 631h1M121 631h1M133 631h1M142 631h1M144 631h1M150 631h2M154 631h2M157 631h4M129 632h1M140 632h1M143 632h2M146 632h15M162 632h1M164 632h1M84 633h1M135 633h1M139 633h1M141 633h4M146 633h4M151 633h6M158 633h2M161 633h3M109 634h1M121 634h1M127 634h1M135 634h1M139 634h1M141 634h2M144 634h21M84 635h1M134 635h1M138 635h5M144 635h20M167 635h1M84 636h1M122 636h1M134 636h1M136 636h1M138 636h2M141 636h20M162 636h1M165 636h1M84 637h1M105 637h1M120 637h1M122 637h2M126 637h1M136 637h28M165 637h2M119 638h1M121 638h1M130 638h1M132 638h4M137 638h27M166 638h1M84 639h1M93 639h1M123 639h1M125 639h1M127 639h1M130 639h1M132 639h30M164 639h1M84 640h1M116 640h1M119 640h1M121 640h1M127 640h1M130 640h1M133 640h31M170 640h1M119 641h3M125 641h1M133 641h5M139 641h24M164 641h2M119 642h1M121 642h1M124 642h1M128 642h37M84 643h1M100 643h1M120 643h1M129 643h35M166 643h2M84 644h1M111 644h1M126 644h3M130 644h34M84 645h1M106 645h1M118 645h2M123 645h1M127 645h2M130 645h35M84 646h1M117 646h1M119 646h3M128 646h34M163 646h3M168 646h1M84 647h1M112 647h1M117 647h1M119 647h1M128 647h34M171 647h1M84 648h1M104 648h1M109 648h1M111 648h1M117 648h1M119 648h3M125 648h2M128 648h11M140 648h24M165 648h1M168 648h1M191 648h1M84 649h1M110 649h1M112 649h1M117 649h1M119 649h3M126 649h2M129 649h34M167 649h1M171 649h1M84 650h1M96 650h1M125 650h2M129 650h34M84 651h1M116 651h1M120 651h2M123 651h1M125 651h37M164 651h2M167 651h1M84 652h1M93 652h1M104 652h1M109 652h1M120 652h2M123 652h1M125 652h2M129 652h34M84 653h1M105 653h1M114 653h1M127 653h1M129 653h31M161 653h2M116 654h1M121 654h1M123 654h1M125 654h1M127 654h38M180 654h1M111 655h1M118 655h2M121 655h1M124 655h40M84 656h1M120 656h1M122 656h1M124 656h1M126 656h28M155 656h7M163 656h2M84 657h1M115 657h2M121 657h1M124 657h2M128 657h32M161 657h2M166 657h1M84 658h1M108 658h1M112 658h1M115 658h1M118 658h1M121 658h4M127 658h36M84 659h1M112 659h1M116 659h1M120 659h4M125 659h37M164 659h1M180 659h1M84 660h1M108 660h1M112 660h1M119 660h1M121 660h1M124 660h2M129 660h33M163 660h2M168 660h1M171 660h1M84 661h1M100 661h1M110 661h1M113 661h1M119 661h1M122 661h1M124 661h1M126 661h2M129 661h1M131 661h2M134 661h28M167 661h1M187 661h1M92 662h1M121 662h3M126 662h1M130 662h5M136 662h27M189 662h1M115 663h1M121 663h1M123 663h2M127 663h3M132 663h27M160 663h1M167 663h1M108 664h1M113 664h1M115 664h1M118 664h1M122 664h4M128 664h1M133 664h1M135 664h24M161 664h1M114 665h1M124 665h2M127 665h1M129 665h2M136 665h23M162 665h1M184 665h1M188 665h1M118 666h1M121 666h1M123 666h1M125 666h3M129 666h2M132 666h1M134 666h1M136 666h9M146 666h12M160 666h1M169 666h1M84 667h1M93 667h1M108 667h1M111 667h1M113 667h1M117 667h2M120 667h1M125 667h2M128 667h1M130 667h1M133 667h1M136 667h1M139 667h18M158 667h1M160 667h2M177 667h1M99 668h1M118 668h1M120 668h2M124 668h2M127 668h2M131 668h1M133 668h1M137 668h22M161 668h1M164 668h1M186 668h1M105 669h2M113 669h1M116 669h1M119 669h1M122 669h1M125 669h2M135 669h4M140 669h16M107 670h1M127 670h2M136 670h1M139 670h1M142 670h12M155 670h2M160 670h1M174 670h1M187 670h1M110 671h1M116 671h1M120 671h1M127 671h1M129 671h1M132 671h1M134 671h1M140 671h16M158 671h1M163 671h1M168 671h1M90 672h1M107 672h1M115 672h1M119 672h1M125 672h4M131 672h2M136 672h2M140 672h2M143 672h11M157 672h1M162 672h1M178 672h1M107 673h1M112 673h1M118 673h2M122 673h1M125 673h1M127 673h1M133 673h1M139 673h14M154 673h4M162 673h1M105 674h1M115 674h2M118 674h2M122 674h1M126 674h1M135 674h1M139 674h1M142 674h7M150 674h3M155 674h1M98 675h1M114 675h1M120 675h2M125 675h1M141 675h6M148 675h5M156 675h1M187 675h1M104 676h1M117 676h1M122 676h1M128 676h1M133 676h2M140 676h1M143 676h1M146 676h1M151 676h1M153 676h1M89 677h1M115 677h1M119 677h1M124 677h2M129 677h2M136 677h1M146 677h1M148 677h1M152 677h1M172 677h1M180 677h1M190 677h1M118 678h1M122 678h1M125 678h2M133 678h1M138 678h1M143 678h1M146 678h1M151 678h2M157 678h2M162 678h1M172 678h1M108 679h1M117 679h1M120 679h2M123 679h3M130 679h1M132 679h1M138 679h1M143 679h1M145 679h2M148 679h3M152 679h1M94 680h1M124 680h1M132 680h1M137 680h2M140 680h2M145 680h2M149 680h3M155 680h1M157 680h1M167 680h1M116 681h1M118 681h1M135 681h1M142 681h3M146 681h2M150 681h2M161 681h1M170 681h1M120 682h1M136 682h2M140 682h1M142 682h1M145 682h2M149 682h1M152 682h3M158 682h1M121 683h1M142 683h2M145 683h3M155 683h1M168 683h1M100 684h1M102 684h1M104 684h1M120 684h1M124 684h1M136 684h1M141 684h1M150 684h1M153 684h1M158 684h1M104 685h1M125 685h1M136 685h1M139 685h1M143 685h1M147 685h1M150 685h1M182 685h1M88 686h1M126 686h1M135 686h1M140 686h1M143 686h3M148 686h1M152 686h3M171 686h1M173 686h1M137 687h1M141 687h2M144 687h1M149 687h1M152 687h1M154 687h1M156 687h2M159 687h1M181 687h1M93 688h1M131 688h1M136 688h1M139 688h1M141 688h1M143 688h1M146 688h3M151 688h2M157 688h1M183 688h1M129 689h1M136 689h1M143 689h1M146 689h1M149 689h2M153 689h3M100 690h1M138 690h3M144 690h4M154 690h1M114 691h1M125 691h1M135 691h1M146 691h5M153 691h1M95 692h1M97 692h1M100 692h1M112 692h1M116 692h1M123 692h1M128 692h1M143 692h1M147 692h1M149 692h1M151 692h2M154 692h1M157 692h1M164 692h1M180 692h1M102 693h1M116 693h1M130 693h1M136 693h2M145 693h1M147 693h4M156 693h1M158 693h1M165 693h1M130 694h1M133 694h1M145 694h2M148 694h3M152 694h2M121 695h1M134 695h1M140 695h3M145 695h1M147 695h1M150 695h1M160 695h1M183 695h1M91 696h1M116 696h1M124 696h1M142 696h2M147 696h1M150 696h2M156 696h1M113 697h1M141 697h1M144 697h1M146 697h1M149 697h1M151 697h1M154 697h1M158 697h2M129 698h1M143 698h1M145 698h2M150 698h2M156 698h1M159 698h1M123 699h1M145 699h1M147 699h2M150 699h1M156 699h1M158 699h1M117 700h1M143 700h1M146 700h3M150 700h1M154 700h1M157 700h1M129 701h1M141 701h1M144 701h2M147 701h1M149 701h2M154 701h1M115 702h1M132 702h1M144 702h1M146 702h1M148 702h2M157 702h1M123 703h1M134 703h1M137 703h1M141 703h2M150 703h1M148 704h1M151 704h2M157 704h1M142 705h1M152 705h1M154 705h1M168 705h1M177 705h1M95 706h1M147 706h1M149 706h2M153 706h1M156 706h1M91 707h1M121 707h1M139 707h1M142 707h2M145 707h1M151 707h1M122 708h1M138 708h1M143 708h1M149 708h2M159 708h1M174 708h1M139 709h1M148 709h3M150 710h1M152 710h1M161 710h1M139 711h1M144 711h1M146 711h1M148 711h2M152 711h3M147 712h1M149 712h1M146 713h1M156 713h1M150 714h1M144 715h1M152 715h1M132 716h1M146 716h2M155 716h1M157 716h1M145 717h1M145 718h1M152 718h1M155 718h1M137 720h1M143 720h1M157 720h1M107 721h1M141 721h1M132 722h1M154 723h1M146 726h1M156 733h1M154 736h1M130 743h30"/><path transform="translate(0 .5)" stroke="#ff0000" stroke-width="1" fill="none" d="M188 587h1M180 599h1M196 600h1M190 601h1M198 601h1M186 604h1M189 605h1M192 605h1M177 606h1M192 606h1M188 607h1M181 608h1M193 608h1M195 608h1M200 608h1M205 608h1M215 608h1M178 609h1M180 609h2M184 609h1M187 609h1M194 609h1M172 610h1M185 610h2M173 611h2M176 611h1M180 611h1M183 611h2M186 611h5M195 611h1M204 611h2M213 611h1M163 612h1M169 612h1M179 612h3M184 612h1M193 612h1M201 612h1M204 612h1M209 612h1M177 613h3M181 613h1M183 613h1M185 613h1M201 613h1M166 614h1M182 614h1M190 614h1M192 614h1M196 614h1M200 614h2M206 614h1M164 615h1M175 615h1M178 615h1M180 615h1M184 615h5M192 615h1M196 615h1M206 615h1M168 616h1M170 616h1M175 616h4M180 616h4M187 616h3M193 616h1M196 616h1M200 616h1M173 617h1M178 617h3M183 617h2M186 617h2M189 617h3M193 617h1M170 618h1M175 618h2M180 618h1M185 618h1M187 618h4M168 619h2M177 619h1M181 619h1M185 619h3M191 619h2M194 619h1M196 619h1M204 619h1M164 620h1M177 620h1M179 620h1M181 620h1M184 620h2M187 620h1M189 620h1M195 620h1M197 620h1M202 620h1M205 620h1M168 621h1M170 621h1M183 621h2M192 621h1M165 622h1M173 622h2M185 622h1M187 622h1M191 622h1M184 623h1M187 623h2M192 623h1M168 624h1M173 624h1M175 624h2M181 624h1M183 624h2M186 624h1M189 624h1M211 624h1M167 625h1M170 625h1M172 625h2M176 625h1M178 625h1M183 625h1M185 625h1M192 625h1M206 625h1M178 626h2M190 626h1M203 626h1M170 627h1M179 627h3M185 627h1M188 627h1M164 628h1M167 628h2M172 628h3M176 628h1M178 628h1M186 628h1M169 629h1M180 629h2M170 630h2M198 630h1M173 631h1"/><path transform="translate(0 .5)" stroke="#0000ff" stroke-width="1" fill="none" d="M358 592h1M363 592h1M367 592h1M362 598h1M358 600h1M362 601h1M352 603h1M359 603h1M364 603h1M366 603h1M365 604h1M353 605h1M360 605h1M350 606h1M357 606h1M312 607h1M358 607h1M360 607h1M367 607h1M358 608h2M365 608h2M340 609h1M358 609h4M363 609h1M356 610h1M360 610h3M364 610h1M366 610h1M352 611h1M368 611h1M358 612h1M366 612h1M323 613h1M366 613h1M324 614h1M352 614h1M360 614h1M363 614h1M366 614h1M358 615h3M362 615h1M365 615h1M368 615h1M352 616h2M361 616h1M363 616h1M365 616h1M339 617h1M352 617h1M357 617h2M360 617h3M347 618h1M354 618h2M358 618h1M341 619h1M350 619h1M352 619h1M358 619h1M360 619h2M351 620h1M356 620h1M360 620h1M363 620h1M365 620h1M367 620h1M348 621h1M357 621h2M363 621h1M366 621h1M368 621h1M350 622h1M355 622h1M358 622h1M362 622h1M364 622h1M366 622h1M318 623h1M355 623h2M360 623h1M363 623h1M366 623h1M352 624h1M359 624h1M363 624h1M365 624h1M351 625h1M353 625h1M359 625h1M366 625h1M353 626h1M358 626h1M360 626h1M357 627h1M362 627h2M366 627h1M317 628h1M359 628h1M361 628h1M353 629h2M356 629h1M364 629h1M362 630h2M345 631h1M354 631h1M360 631h1M364 631h1M366 631h2M341 632h1M355 632h1M358 632h1M362 632h1M295 633h1M335 633h1M356 633h1M361 633h2M327 634h1M346 634h1M351 634h1M356 634h1M360 634h1M362 634h1M370 634h1M383 634h1M340 635h2M343 635h1M351 635h1M356 635h3M364 635h1M343 636h1M348 636h3M352 636h12M365 636h1M374 636h1M326 637h1M328 637h1M340 637h3M346 637h1M348 637h1M350 637h11M362 637h2M365 637h1M368 637h1M334 638h1M344 638h1M348 638h18M370 638h1M381 638h1M330 639h1M337 639h1M343 639h25M370 639h1M385 639h1M326 640h1M329 640h1M333 640h1M335 640h1M338 640h1M341 640h1M345 640h22M332 641h1M335 641h3M339 641h1M343 641h25M372 641h1M378 641h1M391 641h1M319 642h1M329 642h1M342 642h23M366 642h2M382 642h1M330 643h1M332 643h2M337 643h2M340 643h25M366 643h2M372 643h1M333 644h1M338 644h2M341 644h27M388 644h1M314 645h1M334 645h1M336 645h1M340 645h1M342 645h24M368 645h1M370 645h1M319 646h1M326 646h1M333 646h1M340 646h27M368 646h1M292 647h1M327 647h1M330 647h2M336 647h3M340 647h1M342 647h25M368 647h1M292 648h1M318 648h1M327 648h1M336 648h1M338 648h1M340 648h2M343 648h25M369 648h1M383 648h1M292 649h1M309 649h1M331 649h1M337 649h30M292 650h1M317 650h1M320 650h1M326 650h1M333 650h2M337 650h2M341 650h26M383 650h1M292 651h1M329 651h2M335 651h1M340 651h27M292 652h1M312 652h1M323 652h1M328 652h1M330 652h2M334 652h1M339 652h30M374 652h1M292 653h1M321 653h1M327 653h1M329 653h1M333 653h3M339 653h27M368 653h2M328 654h1M331 654h1M338 654h3M342 654h23M367 654h1M369 654h1M378 654h1M292 655h1M321 655h1M336 655h1M339 655h1M341 655h1M343 655h23M368 655h1M384 655h1M292 656h1M319 656h1M324 656h1M327 656h1M335 656h1M338 656h2M342 656h25M369 656h1M292 657h1M323 657h2M331 657h2M334 657h1M336 657h1M338 657h29M378 657h1M381 657h1M292 658h1M329 658h1M334 658h1M339 658h5M345 658h21M367 658h1M292 659h1M310 659h1M317 659h1M331 659h2M334 659h1M336 659h1M339 659h26M366 659h1M369 659h1M373 659h1M391 659h1M292 660h1M312 660h1M324 660h2M330 660h2M334 660h3M338 660h1M340 660h1M343 660h1M345 660h21M374 660h1M292 661h1M325 661h1M327 661h1M329 661h1M332 661h1M338 661h1M342 661h21M364 661h2M367 661h2M374 661h1M292 662h1M319 662h1M329 662h1M333 662h2M340 662h2M343 662h2M346 662h20M382 662h1M292 663h1M320 663h3M324 663h1M332 663h1M335 663h2M339 663h1M341 663h3M345 663h12M358 663h6M366 663h1M292 664h1M326 664h1M329 664h2M333 664h4M339 664h1M344 664h21M369 664h1M374 664h1M333 665h1M338 665h1M342 665h1M344 665h2M347 665h14M362 665h2M365 665h1M292 666h1M333 666h2M336 666h1M338 666h1M340 666h2M348 666h15M364 666h2M389 666h1M292 667h1M308 667h1M310 667h1M316 667h1M333 667h3M338 667h1M345 667h1M347 667h15M367 667h1M383 667h1M388 667h1M292 668h1M317 668h2M325 668h2M333 668h1M335 668h1M338 668h1M343 668h3M347 668h12M361 668h1M370 668h1M386 668h1M331 669h2M334 669h1M336 669h1M341 669h1M345 669h2M351 669h12M370 669h1M317 670h1M321 670h1M325 670h1M329 670h1M335 670h1M338 670h1M341 670h1M344 670h1M347 670h2M350 670h3M354 670h1M356 670h3M377 670h1M330 671h1M332 671h1M336 671h2M342 671h1M344 671h2M348 671h4M355 671h1M358 671h1M380 671h1M302 672h1M330 672h1M335 672h1M342 672h3M348 672h1M350 672h1M352 672h2M355 672h2M383 672h1M320 673h1M330 673h1M332 673h1M335 673h1M345 673h2M351 673h1M356 673h1M359 673h1M330 674h2M333 674h1M339 674h2M344 674h1M348 674h1M353 674h1M359 674h2M315 675h1M319 675h1M331 675h1M333 675h1M338 675h1M342 675h2M349 675h1M351 675h1M355 675h1M357 675h1M369 675h1M332 676h1M340 676h2M346 676h2M350 676h1M352 676h2M356 676h1M359 676h1M362 676h1M369 676h1M323 677h1M342 677h1M345 677h1M349 677h1M351 677h1M354 677h1M357 677h2M361 677h1M317 678h1M331 678h1M334 678h1M336 678h1M348 678h1M352 678h2M360 678h1M362 678h1M331 679h1M333 679h2M341 679h1M344 679h1M348 679h1M350 679h1M352 679h1M356 679h2M341 680h1M343 680h1M347 680h3M359 680h2M328 681h1M338 681h1M344 681h1M347 681h1M349 681h6M356 681h1M359 681h1M363 681h1M340 682h1M345 682h4M350 682h1M352 682h1M354 682h2M357 682h1M367 682h1M330 683h1M344 683h1M349 683h2M354 683h1M362 683h1M385 683h1M318 684h2M343 684h1M345 684h1M348 684h1M350 684h1M352 684h3M356 684h1M360 684h1M366 684h1M331 685h1M348 685h1M350 685h1M356 685h2M359 685h1M362 685h1M344 686h1M347 686h1M350 686h2M356 686h2M340 687h2M350 687h3M358 687h1M365 687h1M330 688h1M335 688h1M344 688h1M347 688h1M350 688h1M354 688h3M361 688h1M377 688h1M337 689h1M346 689h1M348 689h3M355 689h1M359 689h1M328 690h1M344 690h1M348 690h1M353 690h1M355 690h1M357 690h1M359 690h1M363 690h1M398 690h1M346 691h1M348 691h7M357 691h1M359 691h1M321 692h1M325 692h1M343 692h1M346 692h1M351 692h3M355 692h1M350 693h1M357 693h2M345 694h2M351 694h2M354 694h1M378 694h1M328 695h1M345 695h1M352 695h1M354 695h1M359 695h1M408 695h1M318 696h1M336 696h1M349 696h3M353 696h1M356 696h1M359 696h1M351 697h1M355 697h2M360 697h1M347 698h1M350 698h1M354 698h1M357 698h2M345 699h2M351 699h1M356 699h1M358 699h1M354 700h1M357 700h1M360 700h3M354 701h2M357 701h1M359 701h1M324 702h1M347 702h2M352 702h1M355 702h1M366 702h1M329 703h1M342 703h1M350 703h1M356 703h1M360 703h1M332 704h1M348 704h4M355 704h2M341 705h1M348 705h1M354 705h1M362 705h1M339 706h1M349 706h3M357 706h1M349 707h2M353 707h2M360 707h1M323 708h1M306 709h1M344 709h1M322 710h1M352 710h2M359 710h1M350 711h1M347 712h1M357 712h1M340 713h1M348 713h1M365 713h1M349 714h1M353 714h1M356 714h1M359 714h1M325 715h1M353 716h1M360 716h1M343 717h1M348 717h1M358 717h1M346 720h1M352 720h1M355 720h1M362 721h1M355 722h1M348 723h1M347 724h1M353 726h1M356 728h1M354 729h1M356 731h1M336 744h25"/><path transform="translate(0 .5)" stroke="#ff0000" stroke-width="1" fill="none" d="M390 597h1M403 597h1M395 600h1M397 600h1M422 600h1M412 601h2M388 602h1M395 602h1M403 602h1M391 603h1M395 603h1M399 603h1M408 603h1M394 604h1M402 604h1M370 605h1M378 605h1M393 605h1M403 605h1M380 606h1M387 606h1M391 606h1M404 606h1M409 606h1M390 607h1M404 607h1M372 608h1M384 608h2M392 608h1M402 608h1M408 608h1M373 609h1M377 609h1M388 609h1M390 609h2M374 610h1M387 610h1M368 611h1M375 611h1M388 611h2M396 611h1M404 611h1M420 611h1M377 612h1M384 612h1M386 612h1M397 612h1M405 612h2M408 612h1M417 612h1M369 613h1M378 613h1M382 613h2M386 613h1M388 613h2M392 613h2M397 613h1M402 613h1M404 613h1M412 613h1M372 614h1M382 614h1M390 614h1M399 614h1M409 614h1M371 615h1M375 615h1M385 615h1M393 615h3M405 615h3M414 615h1M372 616h1M376 616h1M380 616h1M386 616h1M388 616h1M394 616h1M408 616h1M378 617h1M382 617h1M384 617h2M387 617h1M402 617h3M417 617h1M374 618h2M379 618h2M383 618h1M388 618h1M394 618h1M396 618h1M400 618h1M378 619h1M383 619h4M388 619h1M397 619h2M374 620h1M382 620h1M384 620h1M387 620h3M393 620h2M398 620h1M419 620h1M372 621h1M380 621h2M385 621h1M387 621h1M392 621h1M402 621h1M414 621h1M374 622h2M381 623h3M389 623h1M401 624h1M371 625h1M382 625h1M381 626h1M388 626h1M390 626h1M404 626h1M389 628h1M370 629h2M373 629h1M397 629h1M368 630h3M383 630h2M390 630h1M390 631h1M373 632h1M384 633h1"/><path transform="translate(0 .5)" stroke="#0000ff" stroke-width="1" fill="none" d="M568 591h1M564 596h1M556 597h1M571 598h1M566 599h1M569 599h1M562 601h1M567 601h2M571 601h1M574 602h1M562 603h1M568 603h1M572 604h1M560 605h1M566 605h1M569 605h1M554 606h1M559 606h1M564 607h1M568 607h1M567 608h1M569 608h1M559 609h1M564 609h1M567 609h1M569 609h1M571 609h2M560 610h1M564 610h1M567 610h1M569 610h1M553 611h1M559 611h1M562 611h1M566 611h1M568 611h2M562 612h1M565 612h1M567 612h6M561 613h1M564 613h2M567 613h2M570 613h1M563 614h1M565 614h2M568 614h1M572 614h1M568 615h1M571 615h1M564 616h3M570 616h1M558 617h1M561 617h2M567 617h1M570 617h1M553 618h1M560 619h1M564 619h1M571 619h1M574 619h1M569 620h1M571 620h1M544 621h1M561 621h1M565 621h1M567 621h2M570 621h1M572 621h1M511 622h1M563 622h1M565 622h1M567 622h1M570 622h1M561 623h1M564 623h2M569 623h1M560 624h1M566 624h4M559 625h1M565 625h1M569 625h1M568 626h1M574 626h1M560 627h2M572 627h1M553 628h1M563 628h1M565 628h1M569 628h1M573 628h1M564 629h1M566 629h1M568 629h1M570 629h2M561 630h1M564 630h3M568 630h1M571 630h1M546 631h1M565 631h1M567 631h1M571 631h1M528 632h1M555 632h1M558 632h1M563 632h1M567 632h1M570 632h1M563 633h1M567 633h5M594 633h1M554 634h1M556 634h1M560 634h1M562 634h2M565 634h5M571 634h5M585 634h1M524 635h1M552 635h1M559 635h12M572 635h2M575 635h1M584 635h2M534 636h1M553 636h7M561 636h5M567 636h9M545 637h1M548 637h1M553 637h2M556 637h19M537 638h1M547 638h2M551 638h1M553 638h2M556 638h17M574 638h1M576 638h1M595 638h1M534 639h1M542 639h1M544 639h1M549 639h1M552 639h1M554 639h20M589 639h1M497 640h1M541 640h1M547 640h1M550 640h1M552 640h22M577 640h1M497 641h1M529 641h1M543 641h1M548 641h3M552 641h25M497 642h1M520 642h1M545 642h2M549 642h24M574 642h1M536 643h1M542 643h1M546 643h1M548 643h24M497 644h1M533 644h1M542 644h1M546 644h30M497 645h1M536 645h1M540 645h2M543 645h1M545 645h1M547 645h2M550 645h23M574 645h1M577 645h1M584 645h1M497 646h1M534 646h1M536 646h1M542 646h1M545 646h2M549 646h25M497 647h1M542 647h3M546 647h1M548 647h27M578 647h2M595 647h1M529 648h1M534 648h1M539 648h1M541 648h1M545 648h30M617 648h1M497 649h1M525 649h1M528 649h1M530 649h1M532 649h1M536 649h2M544 649h32M587 649h1M497 650h1M520 650h1M527 650h1M533 650h1M535 650h2M538 650h1M542 650h2M545 650h29M575 650h1M580 650h2M497 651h1M542 651h3M546 651h28M577 651h1M596 651h1M497 652h1M524 652h2M531 652h1M535 652h1M537 652h2M541 652h1M544 652h31M582 652h1M497 653h1M527 653h1M529 653h1M533 653h1M537 653h36M575 653h1M581 653h1M497 654h1M515 654h1M527 654h1M537 654h1M539 654h1M541 654h12M554 654h20M587 654h1M599 654h1M609 654h1M497 655h1M530 655h2M533 655h1M538 655h4M544 655h28M589 655h1M497 656h1M525 656h1M539 656h1M541 656h1M545 656h28M524 657h1M534 657h1M538 657h1M540 657h2M544 657h3M548 657h22M574 657h1M581 657h1M497 658h1M529 658h1M532 658h1M534 658h1M538 658h3M544 658h1M546 658h24M571 658h2M538 659h1M540 659h1M543 659h1M547 659h1M549 659h21M571 659h2M497 660h1M535 660h1M537 660h1M544 660h1M546 660h3M550 660h20M573 660h1M497 661h1M529 661h1M536 661h1M538 661h2M549 661h23M586 661h1M591 661h1M533 662h1M538 662h3M542 662h1M547 662h1M549 662h1M551 662h21M573 662h1M497 663h1M536 663h1M539 663h1M543 663h4M548 663h20M569 663h1M497 664h1M533 664h1M536 664h1M542 664h2M545 664h1M551 664h16M568 664h1M574 664h1M581 664h1M584 664h1M534 665h1M537 665h1M544 665h2M547 665h1M550 665h1M553 665h1M555 665h1M557 665h10M575 665h1M524 666h1M528 666h1M535 666h4M540 666h1M544 666h2M547 666h2M551 666h1M555 666h7M563 666h1M565 666h5M515 667h1M531 667h1M533 667h1M541 667h1M548 667h1M552 667h13M566 667h1M568 667h1M530 668h1M537 668h1M549 668h1M557 668h1M560 668h3M565 668h1M567 668h1M583 668h1M529 669h1M546 669h1M552 669h1M554 669h1M557 669h5M570 669h1M572 669h1M516 670h1M536 670h1M538 670h1M551 670h2M554 670h1M558 670h1M563 670h2M570 670h1M585 670h1M522 671h1M542 671h3M546 671h1M551 671h1M555 671h1M557 671h1M574 671h1M582 671h1M525 672h1M533 672h1M537 672h1M547 672h1M550 672h1M554 672h1M559 672h1M562 672h1M581 672h1M530 673h1M535 673h1M549 673h2M553 673h3M558 673h1M560 673h1M567 673h1M589 673h1M524 674h1M536 674h1M544 674h1M551 674h6M558 674h1M561 674h1M563 674h1M565 674h1M570 674h1M578 674h2M583 674h1M538 675h1M547 675h1M551 675h1M554 675h1M560 675h1M565 675h2M579 675h1M601 675h1M545 676h1M556 676h1M558 676h1M560 676h1M562 676h2M570 676h1M579 676h1M581 676h1M529 677h1M531 677h1M551 677h1M555 677h1M559 677h3M569 677h1M550 678h2M555 678h1M561 678h1M566 678h1M578 678h1M524 679h1M539 679h1M551 679h1M555 679h1M559 679h1M564 679h1M536 680h2M546 680h1M550 680h1M555 680h2M558 680h1M562 680h1M564 680h1M537 681h1M550 681h1M552 681h1M554 681h1M560 681h2M525 682h1M551 682h1M557 682h1M559 682h1M574 682h1M592 682h1M541 683h1M553 683h4M559 683h1M561 683h2M568 683h1M577 683h1M583 683h1M546 684h1M553 684h1M555 684h1M559 684h3M553 685h1M560 685h2M566 685h1M540 686h1M557 686h1M563 686h1M570 686h1M520 687h1M533 687h1M555 687h1M558 687h1M561 687h3M542 688h1M547 688h2M551 688h2M556 688h2M559 688h1M561 688h1M563 688h1M566 688h1M560 689h2M568 689h1M552 690h3M559 690h1M561 690h1M532 691h1M558 691h1M543 692h1M545 692h1M551 692h1M555 692h3M564 692h1M555 693h3M551 694h1M553 694h1M562 694h1M565 694h1M547 695h1M558 695h1M561 695h1M540 696h1M555 696h2M558 696h2M551 697h1M553 697h1M559 697h2M558 698h1M564 698h1M534 699h1M546 699h1M559 699h1M562 699h1M582 699h1M556 700h2M559 700h1M571 700h1M549 701h1M552 701h1M555 701h2M559 701h1M549 702h2M565 702h1M552 703h1M554 703h1M556 703h1M559 703h1M541 704h1M551 704h1M553 704h1M557 704h1M559 704h1M551 705h1M561 705h1M555 706h1M564 706h1M555 707h1M562 707h1M565 707h1M535 708h1M570 708h1M554 709h1M561 709h1M565 709h1M549 710h1M548 711h1M553 711h1M561 712h1M553 713h1M557 713h1M566 713h1M557 714h1M560 714h1M536 715h1M550 718h1M556 718h1M558 718h1M563 718h1M555 720h1M548 721h1M559 721h1M566 721h1M542 722h1M544 722h1M553 725h1M564 729h1M534 731h1M529 745h2M532 745h7M541 745h1M543 745h1M545 745h4M550 745h21"/><path transform="translate(0 .5)" stroke="#ff0000" stroke-width="1" fill="none" d="M602 599h1M601 601h1M586 602h1M613 602h1M601 604h1M607 604h1M587 605h1M575 606h1M582 606h1M589 607h1M600 607h1M575 608h1M590 608h1M603 608h1M577 609h1M590 609h1M595 609h2M579 610h1M591 610h1M598 610h1M602 610h1M607 610h1M582 611h1M590 611h1M595 611h1M597 611h1M581 612h1M587 612h1M592 612h3M596 612h3M604 612h1M576 613h1M580 613h1M584 613h1M593 613h1M575 614h1M578 614h1M588 614h1M590 614h1M599 614h1M609 614h1M592 615h1M594 615h1M598 615h1M603 615h1M605 615h1M575 616h3M583 616h1M587 616h1M589 616h1M591 616h1M579 617h2M586 617h1M593 617h1M599 617h1M579 618h2M583 618h1M585 618h1M590 618h2M594 618h1M596 618h1M599 618h2M576 619h1M581 619h1M583 619h2M588 619h1M593 619h1M610 619h1M582 620h1M599 620h2M586 621h1M588 622h1M590 622h1M598 622h1M611 622h1M582 623h1M592 623h2M598 623h1M601 623h1M607 623h1M576 624h1M597 624h2M576 625h1M581 625h1M592 625h1M588 626h1M594 626h1M594 627h1M599 628h1M585 629h1M587 629h1M595 629h1"/></g>
<g filter="url(#sb)"><rect x="88" y="22" width="135" height="185.5" fill="none" stroke="#3c3c3c" stroke-width="1.3"/><path d="M86.2 201.48H88M86.2 194.35H88M86.2 187.23H88M86.2 180.1H88M84.8 172.98H88M86.2 165.86H88M86.2 158.73H88M86.2 151.61H88M86.2 144.48H88M84.8 137.36H88M86.2 130.24H88M86.2 123.11H88M86.2 115.99H88M86.2 108.86H88M84.8 101.74H88M86.2 94.62H88M86.2 87.49H88M86.2 80.37H88M86.2 73.24H88M84.8 66.12H88M86.2 59H88M86.2 51.87H88M86.2 44.75H88M86.2 37.62H88M84.8 30.5H88M86.2 23.38H88" stroke="#555" stroke-width=".8" fill="none"/><text x="83.8" y="172.98" class="s" font-size="7.6" fill="#111" text-anchor="middle" transform="rotate(-90 83.8 172.98)" textLength="8" lengthAdjust="spacingAndGlyphs" stroke="#111" stroke-width="0.25">50</text><text x="83.8" y="137.36" class="s" font-size="7.6" fill="#111" text-anchor="middle" transform="rotate(-90 83.8 137.36)" textLength="12" lengthAdjust="spacingAndGlyphs" stroke="#111" stroke-width="0.25">100</text><text x="83.8" y="101.74" class="s" font-size="7.6" fill="#111" text-anchor="middle" transform="rotate(-90 83.8 101.74)" textLength="12" lengthAdjust="spacingAndGlyphs" stroke="#111" stroke-width="0.25">150</text><text x="83.8" y="66.12" class="s" font-size="7.6" fill="#111" text-anchor="middle" transform="rotate(-90 83.8 66.12)" textLength="12" lengthAdjust="spacingAndGlyphs" stroke="#111" stroke-width="0.25">200</text><text x="83.8" y="30.5" class="s" font-size="7.6" fill="#111" text-anchor="middle" transform="rotate(-90 83.8 30.5)" textLength="12" lengthAdjust="spacingAndGlyphs" stroke="#111" stroke-width="0.25">250</text><text x="67" y="40" class="s" font-size="7.2" fill="#111" text-anchor="middle" transform="rotate(-90 67 40)" textLength="34.6" lengthAdjust="spacingAndGlyphs">(x 1,000)</text><text x="72.2" y="111" class="s" font-size="10.8" fill="#111" text-anchor="middle" transform="rotate(-90 72.2 111)" textLength="33.1" lengthAdjust="spacingAndGlyphs">SSC-A</text><path d="M92.63 207.5V209.3M95.98 207.5V209.3M98.72 207.5V209.3M101.04 207.5V209.3M103.05 207.5V209.3M104.82 207.5V209.3M106.4 207.5V210.7M116.82 207.5V209.3M122.91 207.5V209.3M127.23 207.5V209.3M130.58 207.5V209.3M133.32 207.5V209.3M135.64 207.5V209.3M137.65 207.5V209.3M139.42 207.5V209.3M141 207.5V210.7M151.42 207.5V209.3M157.51 207.5V209.3M161.83 207.5V209.3M165.18 207.5V209.3M167.92 207.5V209.3M170.24 207.5V209.3M172.25 207.5V209.3M174.02 207.5V209.3M175.6 207.5V210.7M186.02 207.5V209.3M192.11 207.5V209.3M196.43 207.5V209.3M199.78 207.5V209.3M202.52 207.5V209.3M204.84 207.5V209.3M206.85 207.5V209.3M208.62 207.5V209.3M210.2 207.5V210.7M220.62 207.5V209.3" stroke="#555" stroke-width=".8" fill="none"/><text x="104.6" y="222.9" class="s" font-size="7.3" fill="#111" text-anchor="middle" textLength="7.4" lengthAdjust="spacingAndGlyphs">10</text><text x="108.1" y="218.04" class="s" font-size="6.0" fill="#111">2</text><text x="139.2" y="222.9" class="s" font-size="7.3" fill="#111" text-anchor="middle" textLength="7.4" lengthAdjust="spacingAndGlyphs">10</text><text x="142.7" y="218.04" class="s" font-size="6.0" fill="#111">3</text><text x="173.8" y="222.9" class="s" font-size="7.3" fill="#111" text-anchor="middle" textLength="7.4" lengthAdjust="spacingAndGlyphs">10</text><text x="177.3" y="218.04" class="s" font-size="6.0" fill="#111">4</text><text x="208.4" y="222.9" class="s" font-size="7.3" fill="#111" text-anchor="middle" textLength="7.4" lengthAdjust="spacingAndGlyphs">10</text><text x="211.9" y="218.04" class="s" font-size="6.0" fill="#111">5</text><text x="155" y="233.9" class="s" font-size="10.5" fill="#111" text-anchor="middle" textLength="57.9" lengthAdjust="spacingAndGlyphs">CD4 FITC-A</text><text x="161.5" y="110.6" class="s" font-size="10.8" fill="#222" text-anchor="middle" textLength="24.6" lengthAdjust="spacingAndGlyphs">CD4+</text><rect x="158.2" y="169.4" width="38.7" height="34.7" fill="none" stroke="#3c3c3c" stroke-width="1.2"/><rect x="288" y="22.4" width="137" height="185.3" fill="none" stroke="#3c3c3c" stroke-width="1.3"/><path d="M286.2 205.31H288M286.2 199.52H288M286.2 195.04H288M286.2 191.37H288M286.2 188.27H288M286.2 185.59H288M286.2 183.22H288M284.8 181.1H288M286.2 167.16H288M286.2 159.01H288M286.2 153.22H288M286.2 148.74H288M286.2 145.07H288M286.2 141.97H288M286.2 139.29H288M286.2 136.92H288M284.8 134.8H288M286.2 120.86H288M286.2 112.71H288M286.2 106.92H288M286.2 102.44H288M286.2 98.77H288M286.2 95.67H288M286.2 92.99H288M286.2 90.62H288M284.8 88.5H288M286.2 74.56H288M286.2 66.41H288M286.2 60.62H288M286.2 56.14H288M286.2 52.47H288M286.2 49.37H288M286.2 46.69H288M286.2 44.32H288M284.8 42.2H288M286.2 28.26H288" stroke="#555" stroke-width=".8" fill="none"/><g transform="translate(281.6 181.7) rotate(-90)"><text x="0" y="0" class="s" font-size="7.3" fill="#111" text-anchor="middle" textLength="7.6" lengthAdjust="spacingAndGlyphs">10</text><text x="3.6" y="-4.86" class="s" font-size="6.0" fill="#111">2</text></g><g transform="translate(281.6 135.4) rotate(-90)"><text x="0" y="0" class="s" font-size="7.3" fill="#111" text-anchor="middle" textLength="7.6" lengthAdjust="spacingAndGlyphs">10</text><text x="3.6" y="-4.86" class="s" font-size="6.0" fill="#111">3</text></g><g transform="translate(281.6 89.1) rotate(-90)"><text x="0" y="0" class="s" font-size="7.3" fill="#111" text-anchor="middle" textLength="7.6" lengthAdjust="spacingAndGlyphs">10</text><text x="3.6" y="-4.86" class="s" font-size="6.0" fill="#111">4</text></g><g transform="translate(281.6 42.8) rotate(-90)"><text x="0" y="0" class="s" font-size="7.3" fill="#111" text-anchor="middle" textLength="7.6" lengthAdjust="spacingAndGlyphs">10</text><text x="3.6" y="-4.86" class="s" font-size="6.0" fill="#111">5</text></g><path d="M288.67 207.7V209.5M292.95 207.7V209.5M296.27 207.7V209.5M298.99 207.7V209.5M301.29 207.7V209.5M303.28 207.7V209.5M305.03 207.7V209.5M306.6 207.7V210.9M316.93 207.7V209.5M322.97 207.7V209.5M327.25 207.7V209.5M330.57 207.7V209.5M333.29 207.7V209.5M335.59 207.7V209.5M337.58 207.7V209.5M339.33 207.7V209.5M340.9 207.7V210.9M351.23 207.7V209.5M357.27 207.7V209.5M361.55 207.7V209.5M364.87 207.7V209.5M367.59 207.7V209.5M369.89 207.7V209.5M371.88 207.7V209.5M373.63 207.7V209.5M375.2 207.7V210.9M385.53 207.7V209.5M391.57 207.7V209.5M395.85 207.7V209.5M399.17 207.7V209.5M401.89 207.7V209.5M404.19 207.7V209.5M406.18 207.7V209.5M407.93 207.7V209.5M409.5 207.7V210.9M419.83 207.7V209.5" stroke="#555" stroke-width=".8" fill="none"/><text x="305.1" y="223.4" class="s" font-size="7.3" fill="#111" text-anchor="middle" textLength="7.4" lengthAdjust="spacingAndGlyphs">10</text><text x="308.6" y="218.54" class="s" font-size="6.0" fill="#111">2</text><text x="340.2" y="223.4" class="s" font-size="7.3" fill="#111" text-anchor="middle" textLength="7.4" lengthAdjust="spacingAndGlyphs">10</text><text x="343.7" y="218.54" class="s" font-size="6.0" fill="#111">3</text><text x="374.1" y="223.4" class="s" font-size="7.3" fill="#111" text-anchor="middle" textLength="7.4" lengthAdjust="spacingAndGlyphs">10</text><text x="377.6" y="218.54" class="s" font-size="6.0" fill="#111">4</text><text x="408" y="223.4" class="s" font-size="7.3" fill="#111" text-anchor="middle" textLength="7.4" lengthAdjust="spacingAndGlyphs">10</text><text x="411.5" y="218.54" class="s" font-size="6.0" fill="#111">5</text><text x="268.6" y="105.8" class="s" font-size="10.2" fill="#111" text-anchor="middle" transform="rotate(-90 268.6 105.8)" textLength="52.4" lengthAdjust="spacingAndGlyphs">Fox P3 PE-A</text><text x="356.2" y="235" class="s" font-size="10.5" fill="#111" text-anchor="middle" textLength="56.9" lengthAdjust="spacingAndGlyphs">CD4 FITC-A</text><rect x="496" y="21.5" width="144" height="189.2" fill="none" stroke="#3c3c3c" stroke-width="1.3"/><line x1="565" y1="21.5" x2="565" y2="210.7" stroke="#404040" stroke-width="1.1"/><line x1="496" y1="100.2" x2="640" y2="100.2" stroke="#404040" stroke-width="1.1"/><path d="M494.2 208.58H496M494.2 202.66H496M494.2 198.07H496M494.2 194.32H496M494.2 191.14H496M494.2 188.39H496M494.2 185.97H496M492.8 183.8H496M494.2 169.53H496M494.2 161.18H496M494.2 155.26H496M494.2 150.67H496M494.2 146.92H496M494.2 143.74H496M494.2 140.99H496M494.2 138.57H496M492.8 136.4H496M494.2 122.13H496M494.2 113.78H496M494.2 107.86H496M494.2 103.27H496M494.2 99.52H496M494.2 96.34H496M494.2 93.59H496M494.2 91.17H496M492.8 89H496M494.2 74.73H496M494.2 66.38H496M494.2 60.46H496M494.2 55.87H496M494.2 52.12H496M494.2 48.94H496M494.2 46.19H496M494.2 43.77H496M492.8 41.6H496M494.2 27.33H496" stroke="#555" stroke-width=".8" fill="none"/><g transform="translate(491 184.2) rotate(-90)"><text x="0" y="0" class="s" font-size="6.7" fill="#111" text-anchor="middle" textLength="6.7" lengthAdjust="spacingAndGlyphs">10</text><text x="3.15" y="-4.42" class="s" font-size="5.4" fill="#111">2</text></g><g transform="translate(491 136.8) rotate(-90)"><text x="0" y="0" class="s" font-size="6.7" fill="#111" text-anchor="middle" textLength="6.7" lengthAdjust="spacingAndGlyphs">10</text><text x="3.15" y="-4.42" class="s" font-size="5.4" fill="#111">3</text></g><g transform="translate(491 89.4) rotate(-90)"><text x="0" y="0" class="s" font-size="6.7" fill="#111" text-anchor="middle" textLength="6.7" lengthAdjust="spacingAndGlyphs">10</text><text x="3.15" y="-4.42" class="s" font-size="5.4" fill="#111">4</text></g><g transform="translate(491 42) rotate(-90)"><text x="0" y="0" class="s" font-size="6.7" fill="#111" text-anchor="middle" textLength="6.7" lengthAdjust="spacingAndGlyphs">10</text><text x="3.15" y="-4.42" class="s" font-size="5.4" fill="#111">5</text></g><path d="M497.22 210.7V212.5M501.75 210.7V212.5M505.27 210.7V212.5M508.15 210.7V212.5M510.58 210.7V212.5M512.68 210.7V212.5M514.54 210.7V212.5M516.2 210.7V213.9M527.13 210.7V212.5M533.52 210.7V212.5M538.05 210.7V212.5M541.57 210.7V212.5M544.45 210.7V212.5M546.88 210.7V212.5M548.98 210.7V212.5M550.84 210.7V212.5M552.5 210.7V213.9M563.43 210.7V212.5M569.82 210.7V212.5M574.35 210.7V212.5M577.87 210.7V212.5M580.75 210.7V212.5M583.18 210.7V212.5M585.28 210.7V212.5M587.14 210.7V212.5M588.8 210.7V213.9M599.73 210.7V212.5M606.12 210.7V212.5M610.65 210.7V212.5M614.17 210.7V212.5M617.05 210.7V212.5M619.48 210.7V212.5M621.58 210.7V212.5M623.44 210.7V212.5M625.1 210.7V213.9M636.03 210.7V212.5" stroke="#555" stroke-width=".8" fill="none"/><text x="514.7" y="223.4" class="s" font-size="6.7" fill="#111" text-anchor="middle" textLength="6.7" lengthAdjust="spacingAndGlyphs">10</text><text x="517.85" y="218.98" class="s" font-size="5.4" fill="#111">2</text><text x="551" y="223.4" class="s" font-size="6.7" fill="#111" text-anchor="middle" textLength="6.7" lengthAdjust="spacingAndGlyphs">10</text><text x="554.15" y="218.98" class="s" font-size="5.4" fill="#111">3</text><text x="587.3" y="223.4" class="s" font-size="6.7" fill="#111" text-anchor="middle" textLength="6.7" lengthAdjust="spacingAndGlyphs">10</text><text x="590.45" y="218.98" class="s" font-size="5.4" fill="#111">4</text><text x="623.6" y="223.4" class="s" font-size="6.7" fill="#111" text-anchor="middle" textLength="6.7" lengthAdjust="spacingAndGlyphs">10</text><text x="626.75" y="218.98" class="s" font-size="5.4" fill="#111">5</text><text x="481.2" y="113.6" class="s" font-size="8.6" fill="#111" text-anchor="middle" transform="rotate(-90 481.2 113.6)" textLength="37.6" lengthAdjust="spacingAndGlyphs">IgG PE-A</text><text x="567.35" y="231.9" class="s" font-size="9.4" fill="#111" text-anchor="middle" textLength="107.3" lengthAdjust="spacingAndGlyphs">CD25 EF710 PerCP-Cy5-5-A</text><text x="536.8" y="81.4" class="q" font-size="8.6" fill="#000" text-anchor="middle" textLength="8.6" lengthAdjust="spacingAndGlyphs">Q1</text><text x="588.2" y="131.5" class="q" font-size="8.6" fill="#000" text-anchor="middle" textLength="8.6" lengthAdjust="spacingAndGlyphs">Q4</text><text x="535.9" y="130.5" class="q" font-size="8.6" fill="#1a1a50" text-anchor="middle" textLength="8.6" lengthAdjust="spacingAndGlyphs">Q3</text><text x="601.5" y="54.5" class="s" font-size="8.6" fill="#000" text-anchor="middle" textLength="67.2" lengthAdjust="spacingAndGlyphs">CD4+CD25+FoxP3+</text><text x="617.4" y="194.8" class="r" font-size="16.2" fill="#111" text-anchor="middle" textLength="37.4" lengthAdjust="spacingAndGlyphs" stroke="#111" stroke-width="0.3">0.3%</text><rect x="86.5" y="265.5" width="144" height="190" fill="none" stroke="#3c3c3c" stroke-width="1.3"/><line x1="164.4" y1="265.5" x2="164.4" y2="455.5" stroke="#404040" stroke-width="1.1"/><line x1="86.5" y1="340.1" x2="230.5" y2="340.1" stroke="#404040" stroke-width="1.1"/><path d="M84.7 452.58H86.5M84.7 446.66H86.5M84.7 442.07H86.5M84.7 438.32H86.5M84.7 435.14H86.5M84.7 432.39H86.5M84.7 429.97H86.5M83.3 427.8H86.5M84.7 413.53H86.5M84.7 405.18H86.5M84.7 399.26H86.5M84.7 394.67H86.5M84.7 390.92H86.5M84.7 387.74H86.5M84.7 384.99H86.5M84.7 382.57H86.5M83.3 380.4H86.5M84.7 366.13H86.5M84.7 357.78H86.5M84.7 351.86H86.5M84.7 347.27H86.5M84.7 343.52H86.5M84.7 340.34H86.5M84.7 337.59H86.5M84.7 335.17H86.5M83.3 333H86.5M84.7 318.73H86.5M84.7 310.38H86.5M84.7 304.46H86.5M84.7 299.87H86.5M84.7 296.12H86.5M84.7 292.94H86.5M84.7 290.19H86.5M84.7 287.77H86.5M83.3 285.6H86.5M84.7 271.33H86.5" stroke="#555" stroke-width=".8" fill="none"/><g transform="translate(81.5 428.2) rotate(-90)"><text x="0" y="0" class="s" font-size="6.7" fill="#111" text-anchor="middle" textLength="6.7" lengthAdjust="spacingAndGlyphs">10</text><text x="3.15" y="-4.42" class="s" font-size="5.4" fill="#111">2</text></g><g transform="translate(81.5 380.8) rotate(-90)"><text x="0" y="0" class="s" font-size="6.7" fill="#111" text-anchor="middle" textLength="6.7" lengthAdjust="spacingAndGlyphs">10</text><text x="3.15" y="-4.42" class="s" font-size="5.4" fill="#111">3</text></g><g transform="translate(81.5 333.4) rotate(-90)"><text x="0" y="0" class="s" font-size="6.7" fill="#111" text-anchor="middle" textLength="6.7" lengthAdjust="spacingAndGlyphs">10</text><text x="3.15" y="-4.42" class="s" font-size="5.4" fill="#111">4</text></g><g transform="translate(81.5 286) rotate(-90)"><text x="0" y="0" class="s" font-size="6.7" fill="#111" text-anchor="middle" textLength="6.7" lengthAdjust="spacingAndGlyphs">10</text><text x="3.15" y="-4.42" class="s" font-size="5.4" fill="#111">5</text></g><path d="M87.72 455.5V457.3M92.25 455.5V457.3M95.77 455.5V457.3M98.65 455.5V457.3M101.08 455.5V457.3M103.18 455.5V457.3M105.04 455.5V457.3M106.7 455.5V458.7M117.63 455.5V457.3M124.02 455.5V457.3M128.55 455.5V457.3M132.07 455.5V457.3M134.95 455.5V457.3M137.38 455.5V457.3M139.48 455.5V457.3M141.34 455.5V457.3M143 455.5V458.7M153.93 455.5V457.3M160.32 455.5V457.3M164.85 455.5V457.3M168.37 455.5V457.3M171.25 455.5V457.3M173.68 455.5V457.3M175.78 455.5V457.3M177.64 455.5V457.3M179.3 455.5V458.7M190.23 455.5V457.3M196.62 455.5V457.3M201.15 455.5V457.3M204.67 455.5V457.3M207.55 455.5V457.3M209.98 455.5V457.3M212.08 455.5V457.3M213.94 455.5V457.3M215.6 455.5V458.7M226.53 455.5V457.3" stroke="#555" stroke-width=".8" fill="none"/><text x="105.2" y="468.2" class="s" font-size="6.7" fill="#111" text-anchor="middle" textLength="6.7" lengthAdjust="spacingAndGlyphs">10</text><text x="108.35" y="463.78" class="s" font-size="5.4" fill="#111">2</text><text x="141.5" y="468.2" class="s" font-size="6.7" fill="#111" text-anchor="middle" textLength="6.7" lengthAdjust="spacingAndGlyphs">10</text><text x="144.65" y="463.78" class="s" font-size="5.4" fill="#111">3</text><text x="177.8" y="468.2" class="s" font-size="6.7" fill="#111" text-anchor="middle" textLength="6.7" lengthAdjust="spacingAndGlyphs">10</text><text x="180.95" y="463.78" class="s" font-size="5.4" fill="#111">4</text><text x="214.1" y="468.2" class="s" font-size="6.7" fill="#111" text-anchor="middle" textLength="6.7" lengthAdjust="spacingAndGlyphs">10</text><text x="217.25" y="463.78" class="s" font-size="5.4" fill="#111">5</text><text x="71.3" y="357.9" class="s" font-size="8.6" fill="#111" text-anchor="middle" transform="rotate(-90 71.3 357.9)" textLength="51.2" lengthAdjust="spacingAndGlyphs">Fox P3 PE-A</text><text x="157.8" y="476.9" class="s" font-size="9.4" fill="#111" text-anchor="middle" textLength="108.4" lengthAdjust="spacingAndGlyphs">CD25 EF710 PerCP-Cy5-5-A</text><text x="134.8" y="322" class="q" font-size="8.6" fill="#000" text-anchor="middle" textLength="8.6" lengthAdjust="spacingAndGlyphs">Q1</text><text x="187.2" y="372" class="q" font-size="8.6" fill="#000" text-anchor="middle" textLength="8.6" lengthAdjust="spacingAndGlyphs">Q4</text><text x="134.4" y="371.5" class="q" font-size="8.6" fill="#1a1a50" text-anchor="middle" textLength="8.6" lengthAdjust="spacingAndGlyphs">Q3</text><text x="192.8" y="294.2" class="s" font-size="8.6" fill="#000" text-anchor="middle" textLength="67.6" lengthAdjust="spacingAndGlyphs">CD4+CD25+FoxP3+</text><text x="201.95" y="444.2" class="r" font-size="16.2" fill="#111" text-anchor="middle" textLength="37.5" lengthAdjust="spacingAndGlyphs" stroke="#111" stroke-width="0.3">5.2%</text><rect x="288.5" y="265.5" width="146" height="190" fill="none" stroke="#3c3c3c" stroke-width="1.3"/><line x1="367.5" y1="265.5" x2="367.5" y2="455.5" stroke="#404040" stroke-width="1.1"/><line x1="288.5" y1="346.1" x2="434.5" y2="346.1" stroke="#404040" stroke-width="1.1"/><path d="M286.7 452.58H288.5M286.7 446.66H288.5M286.7 442.07H288.5M286.7 438.32H288.5M286.7 435.14H288.5M286.7 432.39H288.5M286.7 429.97H288.5M285.3 427.8H288.5M286.7 413.53H288.5M286.7 405.18H288.5M286.7 399.26H288.5M286.7 394.67H288.5M286.7 390.92H288.5M286.7 387.74H288.5M286.7 384.99H288.5M286.7 382.57H288.5M285.3 380.4H288.5M286.7 366.13H288.5M286.7 357.78H288.5M286.7 351.86H288.5M286.7 347.27H288.5M286.7 343.52H288.5M286.7 340.34H288.5M286.7 337.59H288.5M286.7 335.17H288.5M285.3 333H288.5M286.7 318.73H288.5M286.7 310.38H288.5M286.7 304.46H288.5M286.7 299.87H288.5M286.7 296.12H288.5M286.7 292.94H288.5M286.7 290.19H288.5M286.7 287.77H288.5M285.3 285.6H288.5M286.7 271.33H288.5" stroke="#555" stroke-width=".8" fill="none"/><g transform="translate(283.5 428.2) rotate(-90)"><text x="0" y="0" class="s" font-size="6.7" fill="#111" text-anchor="middle" textLength="6.7" lengthAdjust="spacingAndGlyphs">10</text><text x="3.15" y="-4.42" class="s" font-size="5.4" fill="#111">2</text></g><g transform="translate(283.5 380.8) rotate(-90)"><text x="0" y="0" class="s" font-size="6.7" fill="#111" text-anchor="middle" textLength="6.7" lengthAdjust="spacingAndGlyphs">10</text><text x="3.15" y="-4.42" class="s" font-size="5.4" fill="#111">3</text></g><g transform="translate(283.5 333.4) rotate(-90)"><text x="0" y="0" class="s" font-size="6.7" fill="#111" text-anchor="middle" textLength="6.7" lengthAdjust="spacingAndGlyphs">10</text><text x="3.15" y="-4.42" class="s" font-size="5.4" fill="#111">4</text></g><g transform="translate(283.5 286) rotate(-90)"><text x="0" y="0" class="s" font-size="6.7" fill="#111" text-anchor="middle" textLength="6.7" lengthAdjust="spacingAndGlyphs">10</text><text x="3.15" y="-4.42" class="s" font-size="5.4" fill="#111">5</text></g><path d="M289.72 455.5V457.3M294.25 455.5V457.3M297.77 455.5V457.3M300.65 455.5V457.3M303.08 455.5V457.3M305.18 455.5V457.3M307.04 455.5V457.3M308.7 455.5V458.7M319.63 455.5V457.3M326.02 455.5V457.3M330.55 455.5V457.3M334.07 455.5V457.3M336.95 455.5V457.3M339.38 455.5V457.3M341.48 455.5V457.3M343.34 455.5V457.3M345 455.5V458.7M355.93 455.5V457.3M362.32 455.5V457.3M366.85 455.5V457.3M370.37 455.5V457.3M373.25 455.5V457.3M375.68 455.5V457.3M377.78 455.5V457.3M379.64 455.5V457.3M381.3 455.5V458.7M392.23 455.5V457.3M398.62 455.5V457.3M403.15 455.5V457.3M406.67 455.5V457.3M409.55 455.5V457.3M411.98 455.5V457.3M414.08 455.5V457.3M415.94 455.5V457.3M417.6 455.5V458.7M428.53 455.5V457.3" stroke="#555" stroke-width=".8" fill="none"/><text x="307.2" y="468.2" class="s" font-size="6.7" fill="#111" text-anchor="middle" textLength="6.7" lengthAdjust="spacingAndGlyphs">10</text><text x="310.35" y="463.78" class="s" font-size="5.4" fill="#111">2</text><text x="343.5" y="468.2" class="s" font-size="6.7" fill="#111" text-anchor="middle" textLength="6.7" lengthAdjust="spacingAndGlyphs">10</text><text x="346.65" y="463.78" class="s" font-size="5.4" fill="#111">3</text><text x="379.8" y="468.2" class="s" font-size="6.7" fill="#111" text-anchor="middle" textLength="6.7" lengthAdjust="spacingAndGlyphs">10</text><text x="382.95" y="463.78" class="s" font-size="5.4" fill="#111">4</text><text x="416.1" y="468.2" class="s" font-size="6.7" fill="#111" text-anchor="middle" textLength="6.7" lengthAdjust="spacingAndGlyphs">10</text><text x="419.25" y="463.78" class="s" font-size="5.4" fill="#111">5</text><text x="273.8" y="357.7" class="s" font-size="8.6" fill="#111" text-anchor="middle" transform="rotate(-90 273.8 357.7)" textLength="50.8" lengthAdjust="spacingAndGlyphs">Fox P3 PE-A</text><text x="360.05" y="477.4" class="s" font-size="9.4" fill="#111" text-anchor="middle" textLength="109.1" lengthAdjust="spacingAndGlyphs">CD25 EF710 PerCP-Cy5-5-A</text><text x="338.4" y="327.2" class="q" font-size="8.6" fill="#000" text-anchor="middle" textLength="8.6" lengthAdjust="spacingAndGlyphs">Q1</text><text x="391.2" y="376.8" class="q" font-size="8.6" fill="#000" text-anchor="middle" textLength="8.6" lengthAdjust="spacingAndGlyphs">Q4</text><text x="338.3" y="377.5" class="q" font-size="8.6" fill="#1a1a50" text-anchor="middle" textLength="8.6" lengthAdjust="spacingAndGlyphs">Q3</text><text x="395.8" y="300.2" class="s" font-size="8.6" fill="#000" text-anchor="middle" textLength="69.6" lengthAdjust="spacingAndGlyphs">CD4+CD25+FoxP3+</text><text x="408.8" y="444" class="r" font-size="16.2" fill="#111" text-anchor="middle" textLength="37" lengthAdjust="spacingAndGlyphs" stroke="#111" stroke-width="0.3">3.5%</text><rect x="496.5" y="265.5" width="145" height="190" fill="none" stroke="#3c3c3c" stroke-width="1.3"/><line x1="641.5" y1="455.5" x2="653" y2="455.5" stroke="#3c3c3c" stroke-width="1.3"/><line x1="573.2" y1="265.5" x2="573.2" y2="455.5" stroke="#404040" stroke-width="1.1"/><line x1="496.5" y1="340.7" x2="641.5" y2="340.7" stroke="#404040" stroke-width="1.1"/><path d="M494.7 452.58H496.5M494.7 446.66H496.5M494.7 442.07H496.5M494.7 438.32H496.5M494.7 435.14H496.5M494.7 432.39H496.5M494.7 429.97H496.5M493.3 427.8H496.5M494.7 413.53H496.5M494.7 405.18H496.5M494.7 399.26H496.5M494.7 394.67H496.5M494.7 390.92H496.5M494.7 387.74H496.5M494.7 384.99H496.5M494.7 382.57H496.5M493.3 380.4H496.5M494.7 366.13H496.5M494.7 357.78H496.5M494.7 351.86H496.5M494.7 347.27H496.5M494.7 343.52H496.5M494.7 340.34H496.5M494.7 337.59H496.5M494.7 335.17H496.5M493.3 333H496.5M494.7 318.73H496.5M494.7 310.38H496.5M494.7 304.46H496.5M494.7 299.87H496.5M494.7 296.12H496.5M494.7 292.94H496.5M494.7 290.19H496.5M494.7 287.77H496.5M493.3 285.6H496.5M494.7 271.33H496.5" stroke="#555" stroke-width=".8" fill="none"/><g transform="translate(491.5 428.2) rotate(-90)"><text x="0" y="0" class="s" font-size="6.7" fill="#111" text-anchor="middle" textLength="6.7" lengthAdjust="spacingAndGlyphs">10</text><text x="3.15" y="-4.42" class="s" font-size="5.4" fill="#111">2</text></g><g transform="translate(491.5 380.8) rotate(-90)"><text x="0" y="0" class="s" font-size="6.7" fill="#111" text-anchor="middle" textLength="6.7" lengthAdjust="spacingAndGlyphs">10</text><text x="3.15" y="-4.42" class="s" font-size="5.4" fill="#111">3</text></g><g transform="translate(491.5 333.4) rotate(-90)"><text x="0" y="0" class="s" font-size="6.7" fill="#111" text-anchor="middle" textLength="6.7" lengthAdjust="spacingAndGlyphs">10</text><text x="3.15" y="-4.42" class="s" font-size="5.4" fill="#111">4</text></g><g transform="translate(491.5 286) rotate(-90)"><text x="0" y="0" class="s" font-size="6.7" fill="#111" text-anchor="middle" textLength="6.7" lengthAdjust="spacingAndGlyphs">10</text><text x="3.15" y="-4.42" class="s" font-size="5.4" fill="#111">5</text></g><path d="M503.28 455.5V457.3M509.76 455.5V457.3M514.36 455.5V457.3M517.92 455.5V457.3M520.84 455.5V457.3M523.3 455.5V457.3M525.43 455.5V457.3M527.32 455.5V457.3M529 455.5V458.7M540.08 455.5V457.3M546.56 455.5V457.3M551.16 455.5V457.3M554.72 455.5V457.3M557.64 455.5V457.3M560.1 455.5V457.3M562.23 455.5V457.3M564.12 455.5V457.3M565.8 455.5V458.7M576.88 455.5V457.3M583.36 455.5V457.3M587.96 455.5V457.3M591.52 455.5V457.3M594.44 455.5V457.3M596.9 455.5V457.3M599.03 455.5V457.3M600.92 455.5V457.3M602.6 455.5V458.7M613.68 455.5V457.3M620.16 455.5V457.3M624.76 455.5V457.3M628.32 455.5V457.3M631.24 455.5V457.3M633.7 455.5V457.3M635.83 455.5V457.3M637.72 455.5V457.3M639.4 455.5V458.7M650.48 455.5V457.3" stroke="#555" stroke-width=".8" fill="none"/><text x="527.5" y="468.2" class="s" font-size="6.7" fill="#111" text-anchor="middle" textLength="6.7" lengthAdjust="spacingAndGlyphs">10</text><text x="530.65" y="463.78" class="s" font-size="5.4" fill="#111">2</text><text x="564.3" y="468.2" class="s" font-size="6.7" fill="#111" text-anchor="middle" textLength="6.7" lengthAdjust="spacingAndGlyphs">10</text><text x="567.45" y="463.78" class="s" font-size="5.4" fill="#111">3</text><text x="601.1" y="468.2" class="s" font-size="6.7" fill="#111" text-anchor="middle" textLength="6.7" lengthAdjust="spacingAndGlyphs">10</text><text x="604.25" y="463.78" class="s" font-size="5.4" fill="#111">4</text><text x="637.9" y="468.2" class="s" font-size="6.7" fill="#111" text-anchor="middle" textLength="6.7" lengthAdjust="spacingAndGlyphs">10</text><text x="641.05" y="463.78" class="s" font-size="5.4" fill="#111">5</text><text x="482.2" y="357.7" class="s" font-size="8.6" fill="#111" text-anchor="middle" transform="rotate(-90 482.2 357.7)" textLength="51.6" lengthAdjust="spacingAndGlyphs">Fox P3 PE-A</text><text x="579.9" y="477.8" class="s" font-size="9.4" fill="#111" text-anchor="middle" textLength="109.6" lengthAdjust="spacingAndGlyphs">CD25 EF710 PerCP-Cy5-5-A</text><text x="544.3" y="322" class="q" font-size="8.6" fill="#000" text-anchor="middle" textLength="8.6" lengthAdjust="spacingAndGlyphs">Q1</text><text x="596.5" y="372" class="q" font-size="8.6" fill="#000" text-anchor="middle" textLength="8.6" lengthAdjust="spacingAndGlyphs">Q4</text><text x="544.6" y="371.5" class="q" font-size="8.6" fill="#1a1a50" text-anchor="middle" textLength="8.6" lengthAdjust="spacingAndGlyphs">Q3</text><text x="603.3" y="294.3" class="s" font-size="8.6" fill="#000" text-anchor="middle" textLength="68.2" lengthAdjust="spacingAndGlyphs">CD4+CD25+FoxP3+</text><text x="619.75" y="444.3" class="r" font-size="16.2" fill="#111" text-anchor="middle" textLength="37.5" lengthAdjust="spacingAndGlyphs" stroke="#111" stroke-width="0.3">2.4%</text><rect x="83.5" y="555" width="146.5" height="189.5" fill="none" stroke="#3c3c3c" stroke-width="1.3"/><line x1="163.5" y1="555" x2="163.5" y2="744.5" stroke="#404040" stroke-width="1.1"/><line x1="83.5" y1="632.2" x2="230" y2="632.2" stroke="#404040" stroke-width="1.1"/><path d="M81.7 742.08H83.5M81.7 736.16H83.5M81.7 731.57H83.5M81.7 727.82H83.5M81.7 724.64H83.5M81.7 721.89H83.5M81.7 719.47H83.5M80.3 717.3H83.5M81.7 703.03H83.5M81.7 694.68H83.5M81.7 688.76H83.5M81.7 684.17H83.5M81.7 680.42H83.5M81.7 677.24H83.5M81.7 674.49H83.5M81.7 672.07H83.5M80.3 669.9H83.5M81.7 655.63H83.5M81.7 647.28H83.5M81.7 641.36H83.5M81.7 636.77H83.5M81.7 633.02H83.5M81.7 629.84H83.5M81.7 627.09H83.5M81.7 624.67H83.5M80.3 622.5H83.5M81.7 608.23H83.5M81.7 599.88H83.5M81.7 593.96H83.5M81.7 589.37H83.5M81.7 585.62H83.5M81.7 582.44H83.5M81.7 579.69H83.5M81.7 577.27H83.5M80.3 575.1H83.5M81.7 560.83H83.5" stroke="#555" stroke-width=".8" fill="none"/><g transform="translate(78.5 717.7) rotate(-90)"><text x="0" y="0" class="s" font-size="6.7" fill="#111" text-anchor="middle" textLength="6.7" lengthAdjust="spacingAndGlyphs">10</text><text x="3.15" y="-4.42" class="s" font-size="5.4" fill="#111">2</text></g><g transform="translate(78.5 670.3) rotate(-90)"><text x="0" y="0" class="s" font-size="6.7" fill="#111" text-anchor="middle" textLength="6.7" lengthAdjust="spacingAndGlyphs">10</text><text x="3.15" y="-4.42" class="s" font-size="5.4" fill="#111">3</text></g><g transform="translate(78.5 622.9) rotate(-90)"><text x="0" y="0" class="s" font-size="6.7" fill="#111" text-anchor="middle" textLength="6.7" lengthAdjust="spacingAndGlyphs">10</text><text x="3.15" y="-4.42" class="s" font-size="5.4" fill="#111">4</text></g><g transform="translate(78.5 575.5) rotate(-90)"><text x="0" y="0" class="s" font-size="6.7" fill="#111" text-anchor="middle" textLength="6.7" lengthAdjust="spacingAndGlyphs">10</text><text x="3.15" y="-4.42" class="s" font-size="5.4" fill="#111">5</text></g><path d="M86.06 744.5V746.3M90.64 744.5V746.3M94.18 744.5V746.3M97.08 744.5V746.3M99.53 744.5V746.3M101.65 744.5V746.3M103.53 744.5V746.3M105.2 744.5V747.7M116.22 744.5V746.3M122.66 744.5V746.3M127.24 744.5V746.3M130.78 744.5V746.3M133.68 744.5V746.3M136.13 744.5V746.3M138.25 744.5V746.3M140.13 744.5V746.3M141.8 744.5V747.7M152.82 744.5V746.3M159.26 744.5V746.3M163.84 744.5V746.3M167.38 744.5V746.3M170.28 744.5V746.3M172.73 744.5V746.3M174.85 744.5V746.3M176.73 744.5V746.3M178.4 744.5V747.7M189.42 744.5V746.3M195.86 744.5V746.3M200.44 744.5V746.3M203.98 744.5V746.3M206.88 744.5V746.3M209.33 744.5V746.3M211.45 744.5V746.3M213.33 744.5V746.3M215 744.5V747.7M226.02 744.5V746.3" stroke="#555" stroke-width=".8" fill="none"/><text x="103.7" y="757.2" class="s" font-size="6.7" fill="#111" text-anchor="middle" textLength="6.7" lengthAdjust="spacingAndGlyphs">10</text><text x="106.85" y="752.78" class="s" font-size="5.4" fill="#111">2</text><text x="140.3" y="757.2" class="s" font-size="6.7" fill="#111" text-anchor="middle" textLength="6.7" lengthAdjust="spacingAndGlyphs">10</text><text x="143.45" y="752.78" class="s" font-size="5.4" fill="#111">3</text><text x="176.9" y="757.2" class="s" font-size="6.7" fill="#111" text-anchor="middle" textLength="6.7" lengthAdjust="spacingAndGlyphs">10</text><text x="180.05" y="752.78" class="s" font-size="5.4" fill="#111">4</text><text x="213.5" y="757.2" class="s" font-size="6.7" fill="#111" text-anchor="middle" textLength="6.7" lengthAdjust="spacingAndGlyphs">10</text><text x="216.65" y="752.78" class="s" font-size="5.4" fill="#111">5</text><text x="69.3" y="646.95" class="s" font-size="8.6" fill="#111" text-anchor="middle" transform="rotate(-90 69.3 646.95)" textLength="51.5" lengthAdjust="spacingAndGlyphs">Fox P3 PE-A</text><text x="156.1" y="766.6" class="s" font-size="9.4" fill="#111" text-anchor="middle" textLength="109.6" lengthAdjust="spacingAndGlyphs">CD25 EF710 PerCP-Cy5-5-A</text><text x="133.7" y="614.4" class="q" font-size="8.6" fill="#000" text-anchor="middle" textLength="8.6" lengthAdjust="spacingAndGlyphs">Q1</text><text x="187.1" y="664.3" class="q" font-size="8.6" fill="#000" text-anchor="middle" textLength="8.6" lengthAdjust="spacingAndGlyphs">Q4</text><text x="134" y="664.2" class="q" font-size="8.6" fill="#1a1a50" text-anchor="middle" textLength="8.6" lengthAdjust="spacingAndGlyphs">Q3</text><text x="192" y="586.1" class="s" font-size="8.6" fill="#000" text-anchor="middle" textLength="69" lengthAdjust="spacingAndGlyphs">CD4+CD25+FoxP3+</text><text x="207.9" y="742.7" class="r" font-size="16.2" fill="#111" text-anchor="middle" textLength="37.2" lengthAdjust="spacingAndGlyphs" stroke="#111" stroke-width="0.3">4.5%</text><rect x="291" y="555" width="142.5" height="190.3" fill="none" stroke="#3c3c3c" stroke-width="1.3"/><line x1="368.8" y1="555" x2="368.8" y2="745.3" stroke="#404040" stroke-width="1.1"/><line x1="291" y1="633.4" x2="433.5" y2="633.4" stroke="#404040" stroke-width="1.1"/><path d="M289.2 742.08H291M289.2 736.16H291M289.2 731.57H291M289.2 727.82H291M289.2 724.64H291M289.2 721.89H291M289.2 719.47H291M287.8 717.3H291M289.2 703.03H291M289.2 694.68H291M289.2 688.76H291M289.2 684.17H291M289.2 680.42H291M289.2 677.24H291M289.2 674.49H291M289.2 672.07H291M287.8 669.9H291M289.2 655.63H291M289.2 647.28H291M289.2 641.36H291M289.2 636.77H291M289.2 633.02H291M289.2 629.84H291M289.2 627.09H291M289.2 624.67H291M287.8 622.5H291M289.2 608.23H291M289.2 599.88H291M289.2 593.96H291M289.2 589.37H291M289.2 585.62H291M289.2 582.44H291M289.2 579.69H291M289.2 577.27H291M287.8 575.1H291M289.2 560.83H291" stroke="#555" stroke-width=".8" fill="none"/><g transform="translate(286 717.7) rotate(-90)"><text x="0" y="0" class="s" font-size="6.7" fill="#111" text-anchor="middle" textLength="6.7" lengthAdjust="spacingAndGlyphs">10</text><text x="3.15" y="-4.42" class="s" font-size="5.4" fill="#111">2</text></g><g transform="translate(286 670.3) rotate(-90)"><text x="0" y="0" class="s" font-size="6.7" fill="#111" text-anchor="middle" textLength="6.7" lengthAdjust="spacingAndGlyphs">10</text><text x="3.15" y="-4.42" class="s" font-size="5.4" fill="#111">3</text></g><g transform="translate(286 622.9) rotate(-90)"><text x="0" y="0" class="s" font-size="6.7" fill="#111" text-anchor="middle" textLength="6.7" lengthAdjust="spacingAndGlyphs">10</text><text x="3.15" y="-4.42" class="s" font-size="5.4" fill="#111">4</text></g><g transform="translate(286 575.5) rotate(-90)"><text x="0" y="0" class="s" font-size="6.7" fill="#111" text-anchor="middle" textLength="6.7" lengthAdjust="spacingAndGlyphs">10</text><text x="3.15" y="-4.42" class="s" font-size="5.4" fill="#111">5</text></g><path d="M292.22 745.3V747.1M296.75 745.3V747.1M300.27 745.3V747.1M303.15 745.3V747.1M305.58 745.3V747.1M307.68 745.3V747.1M309.54 745.3V747.1M311.2 745.3V748.5M322.13 745.3V747.1M328.52 745.3V747.1M333.05 745.3V747.1M336.57 745.3V747.1M339.45 745.3V747.1M341.88 745.3V747.1M343.98 745.3V747.1M345.84 745.3V747.1M347.5 745.3V748.5M358.43 745.3V747.1M364.82 745.3V747.1M369.35 745.3V747.1M372.87 745.3V747.1M375.75 745.3V747.1M378.18 745.3V747.1M380.28 745.3V747.1M382.14 745.3V747.1M383.8 745.3V748.5M394.73 745.3V747.1M401.12 745.3V747.1M405.65 745.3V747.1M409.17 745.3V747.1M412.05 745.3V747.1M414.48 745.3V747.1M416.58 745.3V747.1M418.44 745.3V747.1M420.1 745.3V748.5M431.03 745.3V747.1" stroke="#555" stroke-width=".8" fill="none"/><text x="309.7" y="758" class="s" font-size="6.7" fill="#111" text-anchor="middle" textLength="6.7" lengthAdjust="spacingAndGlyphs">10</text><text x="312.85" y="753.58" class="s" font-size="5.4" fill="#111">2</text><text x="346" y="758" class="s" font-size="6.7" fill="#111" text-anchor="middle" textLength="6.7" lengthAdjust="spacingAndGlyphs">10</text><text x="349.15" y="753.58" class="s" font-size="5.4" fill="#111">3</text><text x="382.3" y="758" class="s" font-size="6.7" fill="#111" text-anchor="middle" textLength="6.7" lengthAdjust="spacingAndGlyphs">10</text><text x="385.45" y="753.58" class="s" font-size="5.4" fill="#111">4</text><text x="418.6" y="758" class="s" font-size="6.7" fill="#111" text-anchor="middle" textLength="6.7" lengthAdjust="spacingAndGlyphs">10</text><text x="421.75" y="753.58" class="s" font-size="5.4" fill="#111">5</text><text x="276.5" y="647.4" class="s" font-size="8.6" fill="#111" text-anchor="middle" transform="rotate(-90 276.5 647.4)" textLength="51.2" lengthAdjust="spacingAndGlyphs">Fox P3 PE-A</text><text x="361.75" y="766.3" class="s" font-size="9.4" fill="#111" text-anchor="middle" textLength="106.9" lengthAdjust="spacingAndGlyphs">CD25 EF710 PerCP-Cy5-5-A</text><text x="339.7" y="615" class="q" font-size="8.6" fill="#000" text-anchor="middle" textLength="8.6" lengthAdjust="spacingAndGlyphs">Q1</text><text x="391.8" y="665" class="q" font-size="8.6" fill="#000" text-anchor="middle" textLength="8.6" lengthAdjust="spacingAndGlyphs">Q4</text><text x="339.6" y="664.8" class="q" font-size="8.6" fill="#1a1a50" text-anchor="middle" textLength="8.6" lengthAdjust="spacingAndGlyphs">Q3</text><text x="396.3" y="587" class="s" font-size="8.6" fill="#000" text-anchor="middle" textLength="66.6" lengthAdjust="spacingAndGlyphs">CD4+CD25+FoxP3+</text><text x="409.15" y="734.8" class="r" font-size="16.2" fill="#111" text-anchor="middle" textLength="36.5" lengthAdjust="spacingAndGlyphs" stroke="#111" stroke-width="0.3">3.0%</text><rect x="496.5" y="556" width="144.5" height="190" fill="none" stroke="#3c3c3c" stroke-width="1.3"/><line x1="575.1" y1="556" x2="575.1" y2="746" stroke="#404040" stroke-width="1.1"/><line x1="496.5" y1="630.5" x2="641" y2="630.5" stroke="#404040" stroke-width="1.1"/><path d="M494.7 743.08H496.5M494.7 737.16H496.5M494.7 732.57H496.5M494.7 728.82H496.5M494.7 725.64H496.5M494.7 722.89H496.5M494.7 720.47H496.5M493.3 718.3H496.5M494.7 704.03H496.5M494.7 695.68H496.5M494.7 689.76H496.5M494.7 685.17H496.5M494.7 681.42H496.5M494.7 678.24H496.5M494.7 675.49H496.5M494.7 673.07H496.5M493.3 670.9H496.5M494.7 656.63H496.5M494.7 648.28H496.5M494.7 642.36H496.5M494.7 637.77H496.5M494.7 634.02H496.5M494.7 630.84H496.5M494.7 628.09H496.5M494.7 625.67H496.5M493.3 623.5H496.5M494.7 609.23H496.5M494.7 600.88H496.5M494.7 594.96H496.5M494.7 590.37H496.5M494.7 586.62H496.5M494.7 583.44H496.5M494.7 580.69H496.5M494.7 578.27H496.5M493.3 576.1H496.5M494.7 561.83H496.5" stroke="#555" stroke-width=".8" fill="none"/><g transform="translate(491.5 718.7) rotate(-90)"><text x="0" y="0" class="s" font-size="6.7" fill="#111" text-anchor="middle" textLength="6.7" lengthAdjust="spacingAndGlyphs">10</text><text x="3.15" y="-4.42" class="s" font-size="5.4" fill="#111">2</text></g><g transform="translate(491.5 671.3) rotate(-90)"><text x="0" y="0" class="s" font-size="6.7" fill="#111" text-anchor="middle" textLength="6.7" lengthAdjust="spacingAndGlyphs">10</text><text x="3.15" y="-4.42" class="s" font-size="5.4" fill="#111">3</text></g><g transform="translate(491.5 623.9) rotate(-90)"><text x="0" y="0" class="s" font-size="6.7" fill="#111" text-anchor="middle" textLength="6.7" lengthAdjust="spacingAndGlyphs">10</text><text x="3.15" y="-4.42" class="s" font-size="5.4" fill="#111">4</text></g><g transform="translate(491.5 576.5) rotate(-90)"><text x="0" y="0" class="s" font-size="6.7" fill="#111" text-anchor="middle" textLength="6.7" lengthAdjust="spacingAndGlyphs">10</text><text x="3.15" y="-4.42" class="s" font-size="5.4" fill="#111">5</text></g><path d="M497.72 746V747.8M502.25 746V747.8M505.77 746V747.8M508.65 746V747.8M511.08 746V747.8M513.18 746V747.8M515.04 746V747.8M516.7 746V749.2M527.63 746V747.8M534.02 746V747.8M538.55 746V747.8M542.07 746V747.8M544.95 746V747.8M547.38 746V747.8M549.48 746V747.8M551.34 746V747.8M553 746V749.2M563.93 746V747.8M570.32 746V747.8M574.85 746V747.8M578.37 746V747.8M581.25 746V747.8M583.68 746V747.8M585.78 746V747.8M587.64 746V747.8M589.3 746V749.2M600.23 746V747.8M606.62 746V747.8M611.15 746V747.8M614.67 746V747.8M617.55 746V747.8M619.98 746V747.8M622.08 746V747.8M623.94 746V747.8M625.6 746V749.2M636.53 746V747.8" stroke="#555" stroke-width=".8" fill="none"/><text x="515.2" y="758.7" class="s" font-size="6.7" fill="#111" text-anchor="middle" textLength="6.7" lengthAdjust="spacingAndGlyphs">10</text><text x="518.35" y="754.28" class="s" font-size="5.4" fill="#111">2</text><text x="551.5" y="758.7" class="s" font-size="6.7" fill="#111" text-anchor="middle" textLength="6.7" lengthAdjust="spacingAndGlyphs">10</text><text x="554.65" y="754.28" class="s" font-size="5.4" fill="#111">3</text><text x="587.8" y="758.7" class="s" font-size="6.7" fill="#111" text-anchor="middle" textLength="6.7" lengthAdjust="spacingAndGlyphs">10</text><text x="590.95" y="754.28" class="s" font-size="5.4" fill="#111">4</text><text x="624.1" y="758.7" class="s" font-size="6.7" fill="#111" text-anchor="middle" textLength="6.7" lengthAdjust="spacingAndGlyphs">10</text><text x="627.25" y="754.28" class="s" font-size="5.4" fill="#111">5</text><text x="482.2" y="648.4" class="s" font-size="8.6" fill="#111" text-anchor="middle" transform="rotate(-90 482.2 648.4)" textLength="51.2" lengthAdjust="spacingAndGlyphs">Fox P3 PE-A</text><text x="567.5" y="768.3" class="s" font-size="9.4" fill="#111" text-anchor="middle" textLength="108" lengthAdjust="spacingAndGlyphs">CD25 EF710 PerCP-Cy5-5-A</text><text x="545.8" y="612" class="q" font-size="8.6" fill="#000" text-anchor="middle" textLength="8.6" lengthAdjust="spacingAndGlyphs">Q1</text><text x="598.7" y="661.7" class="q" font-size="8.6" fill="#000" text-anchor="middle" textLength="8.6" lengthAdjust="spacingAndGlyphs">Q4</text><text x="546" y="660.9" class="q" font-size="8.6" fill="#1a1a50" text-anchor="middle" textLength="8.6" lengthAdjust="spacingAndGlyphs">Q3</text><text x="603.15" y="584.6" class="s" font-size="8.6" fill="#000" text-anchor="middle" textLength="68.3" lengthAdjust="spacingAndGlyphs">CD4+CD25+FoxP3+</text><text x="617.45" y="734.3" class="r" font-size="16.2" fill="#111" text-anchor="middle" textLength="37.5" lengthAdjust="spacingAndGlyphs" stroke="#111" stroke-width="0.3">2.2%</text><text x="38.5" y="36.6" class="r" font-size="27" fill="#000" text-anchor="start">a</text><text x="242.8" y="36.6" class="r" font-size="27" fill="#000" text-anchor="start">b</text><text x="457.8" y="35.8" class="r" font-size="27" fill="#000" text-anchor="start">c</text><text x="37" y="289" class="r" font-size="27" fill="#000" text-anchor="start">d</text><text x="251.3" y="288.4" class="r" font-size="27" fill="#000" text-anchor="start">e</text><text x="465" y="289.2" class="r" font-size="27" fill="#000" text-anchor="start">f</text><text x="38.8" y="580" class="r" font-size="27" fill="#000" text-anchor="start">g</text><text x="247.3" y="580" class="r" font-size="27" fill="#000" text-anchor="start">h</text><text x="461.5" y="579.3" class="r" font-size="27" fill="#000" text-anchor="start">i</text><text x="37" y="865" class="r" font-size="27" fill="#000" text-anchor="start">j</text><text x="325.3" y="864.8" class="r" font-size="27" fill="#000" text-anchor="start">k</text><text x="40" y="380.2" class="r" font-size="25" fill="#000" text-anchor="middle" transform="rotate(-90 40 380.2)" textLength="67.5" lengthAdjust="spacingAndGlyphs">FoxP3</text><text x="40.2" y="676" class="r" font-size="25" fill="#000" text-anchor="middle" transform="rotate(-90 40.2 676)" textLength="67.9" lengthAdjust="spacingAndGlyphs">FoxP3</text><text x="374.8" y="522.7" class="r" font-size="25" fill="#000" text-anchor="middle" textLength="59.8" lengthAdjust="spacingAndGlyphs">CD25</text><text x="380.1" y="813.6" class="r" font-size="25" fill="#000" text-anchor="middle" textLength="60.1" lengthAdjust="spacingAndGlyphs">CD25</text><line x1="56.5" y1="480" x2="56.5" y2="307.5" stroke="#000" stroke-width="2.6"/><path d="M61.1 316L56.5 307.5L51.9 316" stroke="#000" stroke-width="2.6" fill="none" stroke-linecap="round" stroke-linejoin="miter"/><line x1="63.5" y1="497.8" x2="655" y2="495.8" stroke="#000" stroke-width="2.6"/><path d="M646.52 500.43L655 495.8L646.48 491.23" stroke="#000" stroke-width="2.6" fill="none" stroke-linecap="round" stroke-linejoin="miter"/><line x1="50.9" y1="762.3" x2="50.9" y2="593.7" stroke="#000" stroke-width="2.6"/><path d="M55.5 602.2L50.9 593.7L46.3 602.2" stroke="#000" stroke-width="2.6" fill="none" stroke-linecap="round" stroke-linejoin="miter"/><line x1="57.2" y1="788.6" x2="661.2" y2="786.5" stroke="#000" stroke-width="2.6"/><path d="M652.72 791.13L661.2 786.5L652.68 781.93" stroke="#000" stroke-width="2.6" fill="none" stroke-linecap="round" stroke-linejoin="miter"/><line x1="97.1" y1="874.29" x2="97.1" y2="1026.4" stroke="#a0a0a0" stroke-width="1.1"/><line x1="92.1" y1="1026.4" x2="327.1" y2="1026.4" stroke="#a0a0a0" stroke-width="1.1"/><line x1="92.1" y1="1026.4" x2="97.1" y2="1026.4" stroke="#a0a0a0" stroke-width="1.1"/><text x="83.5" y="1030.7" class="s" font-size="12" fill="#111" text-anchor="end" font-weight="bold" stroke="#111" stroke-width="0.35">0</text><line x1="92.1" y1="1004.67" x2="97.1" y2="1004.67" stroke="#a0a0a0" stroke-width="1.1"/><text x="83.5" y="1008.97" class="s" font-size="12" fill="#111" text-anchor="end" font-weight="bold" stroke="#111" stroke-width="0.35">1</text><line x1="92.1" y1="982.94" x2="97.1" y2="982.94" stroke="#a0a0a0" stroke-width="1.1"/><text x="83.5" y="987.24" class="s" font-size="12" fill="#111" text-anchor="end" font-weight="bold" stroke="#111" stroke-width="0.35">2</text><line x1="92.1" y1="961.21" x2="97.1" y2="961.21" stroke="#a0a0a0" stroke-width="1.1"/><text x="83.5" y="965.51" class="s" font-size="12" fill="#111" text-anchor="end" font-weight="bold" stroke="#111" stroke-width="0.35">3</text><line x1="92.1" y1="939.48" x2="97.1" y2="939.48" stroke="#a0a0a0" stroke-width="1.1"/><text x="83.5" y="943.78" class="s" font-size="12" fill="#111" text-anchor="end" font-weight="bold" stroke="#111" stroke-width="0.35">4</text><line x1="92.1" y1="917.75" x2="97.1" y2="917.75" stroke="#a0a0a0" stroke-width="1.1"/><text x="83.5" y="922.05" class="s" font-size="12" fill="#111" text-anchor="end" font-weight="bold" stroke="#111" stroke-width="0.35">5</text><line x1="92.1" y1="896.02" x2="97.1" y2="896.02" stroke="#a0a0a0" stroke-width="1.1"/><text x="83.5" y="900.32" class="s" font-size="12" fill="#111" text-anchor="end" font-weight="bold" stroke="#111" stroke-width="0.35">6</text><line x1="92.1" y1="874.29" x2="97.1" y2="874.29" stroke="#a0a0a0" stroke-width="1.1"/><text x="83.5" y="878.59" class="s" font-size="12" fill="#111" text-anchor="end" font-weight="bold" stroke="#111" stroke-width="0.35">7</text><line x1="97.1" y1="1026.4" x2="97.1" y2="1031.4" stroke="#a0a0a0" stroke-width="1.1"/><line x1="174.2" y1="1026.4" x2="174.2" y2="1031.4" stroke="#a0a0a0" stroke-width="1.1"/><line x1="250.2" y1="1026.4" x2="250.2" y2="1031.4" stroke="#a0a0a0" stroke-width="1.1"/><line x1="327.1" y1="1026.4" x2="327.1" y2="1031.4" stroke="#a0a0a0" stroke-width="1.1"/><rect x="120.4" y="913.4" width="30.4" height="113" fill="#595959"/><line x1="135.6" y1="913.4" x2="135.6" y2="896.02" stroke="#333" stroke-width="1.3"/><line x1="132.3" y1="896.02" x2="138.9" y2="896.02" stroke="#333" stroke-width="1.3"/><rect x="196.8" y="950.35" width="31" height="76.06" fill="#595959"/><line x1="212.3" y1="950.35" x2="212.3" y2="943.83" stroke="#333" stroke-width="1.3"/><line x1="209" y1="943.83" x2="215.6" y2="943.83" stroke="#333" stroke-width="1.3"/><rect x="273.7" y="974.25" width="30.3" height="52.15" fill="#595959"/><line x1="288.85" y1="974.25" x2="288.85" y2="969.9" stroke="#333" stroke-width="1.3"/><line x1="285.55" y1="969.9" x2="292.15" y2="969.9" stroke="#333" stroke-width="1.3"/><text x="61.9" y="953.7" class="r" font-size="14" fill="#111" text-anchor="middle" transform="rotate(-90 61.9 953.7)" textLength="110.6" lengthAdjust="spacingAndGlyphs" stroke="#111" stroke-width="0.3">Treg in blood (%)</text><text x="135.1" y="1049.8" class="s" font-size="13" fill="#111" text-anchor="middle" textLength="22.1" lengthAdjust="spacingAndGlyphs" font-weight="bold" stroke="#111" stroke-width="0.3">Con</text><text x="212.4" y="1050" class="s" font-size="13" fill="#111" text-anchor="middle" textLength="36.8" lengthAdjust="spacingAndGlyphs" font-weight="bold" stroke="#111" stroke-width="0.3">ALI 6h</text><text x="289.2" y="1050" class="s" font-size="13" fill="#111" text-anchor="middle" textLength="44.7" lengthAdjust="spacingAndGlyphs" font-weight="bold" stroke="#111" stroke-width="0.3">ALI 24h</text><text x="212.6" y="942.5" class="s" font-size="17" fill="#111" text-anchor="middle" textLength="14.1" lengthAdjust="spacingAndGlyphs" font-weight="bold">**</text><text x="289.4" y="939.2" class="s" font-size="13" fill="#111" text-anchor="middle" textLength="8" lengthAdjust="spacingAndGlyphs" font-weight="bold">#</text><text x="289.5" y="965" class="s" font-size="17" fill="#111" text-anchor="middle" textLength="14.2" lengthAdjust="spacingAndGlyphs" font-weight="bold">**</text><line x1="412.5" y1="873.58" x2="412.5" y2="1027" stroke="#a0a0a0" stroke-width="1.1"/><line x1="407.5" y1="1027" x2="653.1" y2="1027" stroke="#a0a0a0" stroke-width="1.1"/><line x1="407.5" y1="1027" x2="412.5" y2="1027" stroke="#a0a0a0" stroke-width="1.1"/><text x="398.8" y="1031.3" class="s" font-size="12" fill="#111" text-anchor="end" font-weight="bold" stroke="#111" stroke-width="0.35">0</text><line x1="407.5" y1="1001.43" x2="412.5" y2="1001.43" stroke="#a0a0a0" stroke-width="1.1"/><text x="398.8" y="1005.73" class="s" font-size="12" fill="#111" text-anchor="end" font-weight="bold" stroke="#111" stroke-width="0.35">1</text><line x1="407.5" y1="975.86" x2="412.5" y2="975.86" stroke="#a0a0a0" stroke-width="1.1"/><text x="398.8" y="980.16" class="s" font-size="12" fill="#111" text-anchor="end" font-weight="bold" stroke="#111" stroke-width="0.35">2</text><line x1="407.5" y1="950.29" x2="412.5" y2="950.29" stroke="#a0a0a0" stroke-width="1.1"/><text x="398.8" y="954.59" class="s" font-size="12" fill="#111" text-anchor="end" font-weight="bold" stroke="#111" stroke-width="0.35">3</text><line x1="407.5" y1="924.72" x2="412.5" y2="924.72" stroke="#a0a0a0" stroke-width="1.1"/><text x="398.8" y="929.02" class="s" font-size="12" fill="#111" text-anchor="end" font-weight="bold" stroke="#111" stroke-width="0.35">4</text><line x1="407.5" y1="899.15" x2="412.5" y2="899.15" stroke="#a0a0a0" stroke-width="1.1"/><text x="398.8" y="903.45" class="s" font-size="12" fill="#111" text-anchor="end" font-weight="bold" stroke="#111" stroke-width="0.35">5</text><line x1="407.5" y1="873.58" x2="412.5" y2="873.58" stroke="#a0a0a0" stroke-width="1.1"/><text x="398.8" y="877.88" class="s" font-size="12" fill="#111" text-anchor="end" font-weight="bold" stroke="#111" stroke-width="0.35">6</text><line x1="412.5" y1="1027" x2="412.5" y2="1032" stroke="#a0a0a0" stroke-width="1.1"/><line x1="492.9" y1="1027" x2="492.9" y2="1032" stroke="#a0a0a0" stroke-width="1.1"/><line x1="573.1" y1="1027" x2="573.1" y2="1032" stroke="#a0a0a0" stroke-width="1.1"/><line x1="653.1" y1="1027" x2="653.1" y2="1032" stroke="#a0a0a0" stroke-width="1.1"/><rect x="437.4" y="911.93" width="31.6" height="115.07" fill="#595959"/><line x1="453.2" y1="911.93" x2="453.2" y2="892.76" stroke="#333" stroke-width="1.3"/><line x1="449.9" y1="892.76" x2="456.5" y2="892.76" stroke="#333" stroke-width="1.3"/><rect x="517" y="950.29" width="31.9" height="76.71" fill="#595959"/><line x1="532.95" y1="950.29" x2="532.95" y2="946.45" stroke="#333" stroke-width="1.3"/><line x1="529.65" y1="946.45" x2="536.25" y2="946.45" stroke="#333" stroke-width="1.3"/><rect x="597" y="970.75" width="31.9" height="56.25" fill="#595959"/><line x1="612.95" y1="970.75" x2="612.95" y2="968.19" stroke="#333" stroke-width="1.3"/><line x1="609.65" y1="968.19" x2="616.25" y2="968.19" stroke="#333" stroke-width="1.3"/><text x="377" y="945.4" class="r" font-size="14" fill="#111" text-anchor="middle" transform="rotate(-90 377 945.4)" textLength="103" lengthAdjust="spacingAndGlyphs" stroke="#111" stroke-width="0.3">Treg in lung (%)</text><text x="452.5" y="1051.5" class="s" font-size="13" fill="#111" text-anchor="middle" textLength="23.1" lengthAdjust="spacingAndGlyphs" font-weight="bold" stroke="#111" stroke-width="0.3">Con</text><text x="532.7" y="1051.3" class="s" font-size="13" fill="#111" text-anchor="middle" textLength="37" lengthAdjust="spacingAndGlyphs" font-weight="bold" stroke="#111" stroke-width="0.3">ALI 6h</text><text x="612.7" y="1051.3" class="s" font-size="13" fill="#111" text-anchor="middle" textLength="45" lengthAdjust="spacingAndGlyphs" font-weight="bold" stroke="#111" stroke-width="0.3">ALI 24h</text><text x="532.7" y="943" class="s" font-size="17" fill="#111" text-anchor="middle" textLength="14.2" lengthAdjust="spacingAndGlyphs" font-weight="bold">**</text><text x="612.8" y="939" class="s" font-size="13" fill="#111" text-anchor="middle" textLength="15.1" lengthAdjust="spacingAndGlyphs" font-weight="bold">##</text><text x="613" y="963" class="s" font-size="17" fill="#111" text-anchor="middle" textLength="14" lengthAdjust="spacingAndGlyphs" font-weight="bold">**</text></g>
</svg></body></html>
